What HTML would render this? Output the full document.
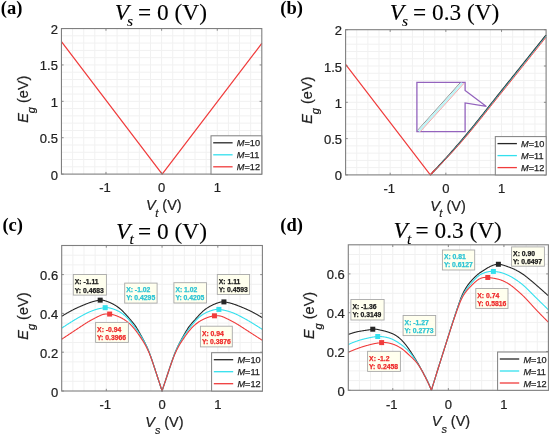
<!DOCTYPE html>
<html><head><meta charset="utf-8"><style>
html,body{margin:0;padding:0;background:#fff;}
body{width:550px;height:435px;overflow:hidden;font-family:"Liberation Sans",sans-serif;}
svg{display:block;will-change:transform;}
</style></head><body>
<svg width="550" height="435" viewBox="0 0 550 435">
<rect width="550" height="435" fill="#fff"/>
<path d="M72.58 28.55V174.1M83.71 28.55V174.1M94.84 28.55V174.1M105.97 28.55V174.1M117.1 28.55V174.1M128.23 28.55V174.1M139.36 28.55V174.1M150.49 28.55V174.1M161.62 28.55V174.1M172.76 28.55V174.1M183.89 28.55V174.1M195.02 28.55V174.1M206.15 28.55V174.1M217.28 28.55V174.1M228.41 28.55V174.1M239.54 28.55V174.1M250.67 28.55V174.1M61.45 166.82H261.8M61.45 159.54H261.8M61.45 152.27H261.8M61.45 144.99H261.8M61.45 137.71H261.8M61.45 130.44H261.8M61.45 123.16H261.8M61.45 115.88H261.8M61.45 108.6H261.8M61.45 101.33H261.8M61.45 94.05H261.8M61.45 86.77H261.8M61.45 79.49H261.8M61.45 72.22H261.8M61.45 64.94H261.8M61.45 57.66H261.8M61.45 50.38H261.8M61.45 43.1H261.8M61.45 35.83H261.8" stroke="#f1f1f1" stroke-width="1" fill="none"/>
<path d="M356.74 29.7V174.9M367.88 29.7V174.9M379.02 29.7V174.9M390.16 29.7V174.9M401.29 29.7V174.9M412.43 29.7V174.9M423.57 29.7V174.9M434.71 29.7V174.9M445.85 29.7V174.9M456.99 29.7V174.9M468.13 29.7V174.9M479.27 29.7V174.9M490.41 29.7V174.9M501.54 29.7V174.9M512.68 29.7V174.9M523.82 29.7V174.9M534.96 29.7V174.9M345.6 167.64H546.1M345.6 160.38H546.1M345.6 153.12H546.1M345.6 145.86H546.1M345.6 138.6H546.1M345.6 131.34H546.1M345.6 124.08H546.1M345.6 116.82H546.1M345.6 109.56H546.1M345.6 102.3H546.1M345.6 95.04H546.1M345.6 87.78H546.1M345.6 80.52H546.1M345.6 73.26H546.1M345.6 66H546.1M345.6 58.74H546.1M345.6 51.48H546.1M345.6 44.22H546.1M345.6 36.96H546.1" stroke="#f1f1f1" stroke-width="1" fill="none"/>
<path d="M72.85 245.5V391M84 245.5V391M95.15 245.5V391M106.3 245.5V391M117.45 245.5V391M128.6 245.5V391M139.75 245.5V391M150.9 245.5V391M162.05 245.5V391M173.2 245.5V391M184.35 245.5V391M195.5 245.5V391M206.65 245.5V391M217.8 245.5V391M228.95 245.5V391M240.1 245.5V391M251.25 245.5V391M61.7 381.3H262.4M61.7 371.6H262.4M61.7 361.9H262.4M61.7 352.2H262.4M61.7 342.5H262.4M61.7 332.8H262.4M61.7 323.1H262.4M61.7 313.4H262.4M61.7 303.7H262.4M61.7 294H262.4M61.7 284.3H262.4M61.7 274.6H262.4M61.7 264.9H262.4M61.7 255.2H262.4" stroke="#f1f1f1" stroke-width="1" fill="none"/>
<path d="M359.42 244.8V390.3M370.53 244.8V390.3M381.65 244.8V390.3M392.77 244.8V390.3M403.88 244.8V390.3M415 244.8V390.3M426.12 244.8V390.3M437.23 244.8V390.3M448.35 244.8V390.3M459.47 244.8V390.3M470.58 244.8V390.3M481.7 244.8V390.3M492.82 244.8V390.3M503.93 244.8V390.3M515.05 244.8V390.3M526.17 244.8V390.3M537.28 244.8V390.3M348.3 380.6H548.4M348.3 370.9H548.4M348.3 361.2H548.4M348.3 351.5H548.4M348.3 341.8H548.4M348.3 332.1H548.4M348.3 322.4H548.4M348.3 312.7H548.4M348.3 303H548.4M348.3 293.3H548.4M348.3 283.6H548.4M348.3 273.9H548.4M348.3 264.2H548.4M348.3 254.5H548.4" stroke="#f1f1f1" stroke-width="1" fill="none"/>
<polyline points="61.45,41.65 162.18,174.1 261.8,43.47" fill="none" stroke="#f03c3c" stroke-width="1.25" stroke-linejoin="round" />
<polyline points="430.31,174.9 431.78,173.37 433.24,171.84 434.71,170.29 436.17,168.74 437.64,167.17 439.11,165.6 440.57,164.02 442.04,162.43 443.5,160.84 444.97,159.23 446.43,157.62 447.9,156 449.37,154.36 450.83,152.72 452.3,151.07 453.76,149.42 455.23,147.75 456.69,146.08 458.16,144.39 459.62,142.7 461.09,141 462.56,139.29 464.02,137.56 465.49,135.82 466.95,134.06 468.42,132.29 469.88,130.51 471.35,128.72 472.82,126.91 474.28,125.1 475.75,123.28 477.21,121.45 478.68,119.61 480.14,117.77 481.61,115.92 483.08,114.07 484.54,112.21 486.01,110.36 487.47,108.5 488.94,106.64 490.4,104.78 491.87,102.92 493.34,101.07 494.8,99.22 496.27,97.37 497.73,95.53 499.2,93.7 500.66,91.87 502.13,90.04 503.6,88.22 505.06,86.39 506.53,84.56 507.99,82.73 509.46,80.9 510.92,79.08 512.39,77.25 513.86,75.42 515.32,73.59 516.79,71.76 518.25,69.93 519.72,68.09 521.18,66.26 522.65,64.43 524.11,62.6 525.58,60.77 527.05,58.93 528.51,57.1 529.98,55.27 531.44,53.43 532.91,51.6 534.37,49.76 535.84,47.93 537.31,46.09 538.77,44.26 540.24,42.42 541.7,40.58 543.17,38.75 544.63,36.91 546.1,35.07" fill="none" stroke="#262626" stroke-width="1.4" stroke-linejoin="round" />
<polyline points="430.31,174.9 431.78,173.39 433.24,171.88 434.71,170.35 436.17,168.82 437.64,167.27 439.11,165.72 440.57,164.16 442.04,162.59 443.5,161.01 444.97,159.42 446.43,157.82 447.9,156.22 449.37,154.6 450.83,152.98 452.3,151.34 453.76,149.7 455.23,148.05 456.69,146.39 458.16,144.72 459.62,143.04 461.09,141.36 462.56,139.66 464.02,137.94 465.49,136.21 466.95,134.47 468.42,132.71 469.88,130.94 471.35,129.16 472.82,127.36 474.28,125.56 475.75,123.74 477.21,121.92 478.68,120.09 480.14,118.26 481.61,116.42 483.08,114.57 484.54,112.72 486.01,110.87 487.47,109.02 488.94,107.17 490.4,105.32 491.87,103.47 493.34,101.62 494.8,99.78 496.27,97.94 497.73,96.1 499.2,94.28 500.66,92.45 502.13,90.63 503.6,88.81 505.06,86.99 506.53,85.17 507.99,83.35 509.46,81.52 510.92,79.7 512.39,77.88 513.86,76.05 515.32,74.23 516.79,72.4 518.25,70.58 519.72,68.75 521.18,66.93 522.65,65.1 524.11,63.27 525.58,61.44 527.05,59.61 528.51,57.79 529.98,55.96 531.44,54.13 532.91,52.3 534.37,50.46 535.84,48.63 537.31,46.8 538.77,44.97 540.24,43.14 541.7,41.3 543.17,39.47 544.63,37.63 546.1,35.8" fill="none" stroke="#33e0ee" stroke-width="0.75" stroke-linejoin="round" />
<polyline points="345.6,64.48 430.31,174.9 434.77,169.96" fill="none" stroke="#f03c3c" stroke-width="1.2" stroke-linejoin="round" />
<polyline points="430.31,174.9 431.78,173.45 433.24,171.99 434.71,170.52 436.17,169.04 437.64,167.54 439.11,166.04 440.57,164.53 442.04,163.01 443.5,161.47 444.97,159.93 446.43,158.38 447.9,156.81 449.37,155.24 450.83,153.66 452.3,152.06 453.76,150.46 455.23,148.84 456.69,147.22 458.16,145.58 459.62,143.94 461.09,142.28 462.56,140.62 464.02,138.93 465.49,137.23 466.95,135.51 468.42,133.78 469.88,132.03 471.35,130.26 472.82,128.49 474.28,126.7 475.75,124.9 477.21,123.1 478.68,121.28 480.14,119.46 481.61,117.63 483.08,115.79 484.54,113.95 486.01,112.11 487.47,110.27 488.94,108.42 490.4,106.58 491.87,104.74 493.34,102.9 494.8,101.06 496.27,99.23 497.73,97.4 499.2,95.58 500.66,93.76 502.13,91.95 503.6,90.14 505.06,88.32 506.53,86.5 507.99,84.69 509.46,82.87 510.92,81.05 512.39,79.23 513.86,77.41 515.32,75.59 516.79,73.76 518.25,71.94 519.72,70.12 521.18,68.29 522.65,66.46 524.11,64.64 525.58,62.81 527.05,60.98 528.51,59.15 529.98,57.32 531.44,55.48 532.91,53.65 534.37,51.82 535.84,49.98 537.31,48.14 538.77,46.31 540.24,44.47 541.7,42.63 543.17,40.79 544.63,38.95 546.1,37.11" fill="none" stroke="#f03c3c" stroke-width="0.95" stroke-linejoin="round" />
<polyline points="61.7,316.31 62.04,316.1 62.37,315.89 62.71,315.68 63.04,315.47 63.38,315.26 63.71,315.06 64.05,314.85 64.38,314.65 64.72,314.45 65.06,314.25 65.39,314.05 65.73,313.85 66.06,313.65 66.4,313.46 66.73,313.26 67.07,313.07 67.41,312.88 67.74,312.69 68.08,312.5 68.41,312.31 68.75,312.12 69.08,311.93 69.42,311.75 69.75,311.56 70.09,311.38 70.43,311.2 70.76,311.02 71.1,310.83 71.43,310.66 71.77,310.48 72.1,310.3 72.44,310.12 72.78,309.95 73.11,309.77 73.45,309.6 73.78,309.43 74.12,309.26 74.45,309.09 74.79,308.93 75.12,308.77 75.46,308.61 75.8,308.45 76.13,308.29 76.47,308.13 76.8,307.98 77.14,307.82 77.47,307.67 77.81,307.52 78.15,307.37 78.48,307.22 78.82,307.07 79.15,306.92 79.49,306.78 79.82,306.63 80.16,306.49 80.49,306.34 80.83,306.2 81.17,306.06 81.5,305.92 81.84,305.77 82.17,305.63 82.51,305.49 82.84,305.35 83.18,305.21 83.52,305.07 83.85,304.93 84.19,304.79 84.52,304.65 84.86,304.51 85.19,304.37 85.53,304.23 85.86,304.1 86.2,303.96 86.54,303.83 86.87,303.7 87.21,303.57 87.54,303.44 87.88,303.32 88.21,303.19 88.55,303.07 88.89,302.95 89.22,302.83 89.56,302.71 89.89,302.59 90.23,302.48 90.56,302.36 90.9,302.25 91.23,302.14 91.57,302.04 91.91,301.93 92.24,301.83 92.58,301.73 92.91,301.63 93.25,301.54 93.58,301.44 93.92,301.35 94.26,301.26 94.59,301.18 94.93,301.09 95.26,301.01 95.6,300.93 95.93,300.86 96.27,300.79 96.6,300.72 96.94,300.65 97.28,300.58 97.61,300.52 97.95,300.46 98.28,300.41 98.62,300.35 98.95,300.3 99.29,300.26 99.62,300.21 99.96,300.17 100.3,300.14 100.63,300.11 100.97,300.1 101.3,300.1 101.64,300.11 101.97,300.13 102.31,300.17 102.65,300.21 102.98,300.26 103.32,300.32 103.65,300.39 103.99,300.47 104.32,300.56 104.66,300.65 104.99,300.74 105.33,300.85 105.67,300.95 106,301.06 106.34,301.18 106.67,301.3 107.01,301.42 107.34,301.54 107.68,301.66 108.02,301.79 108.35,301.92 108.69,302.05 109.02,302.19 109.36,302.33 109.69,302.47 110.03,302.61 110.36,302.76 110.7,302.91 111.04,303.07 111.37,303.23 111.71,303.39 112.04,303.56 112.38,303.73 112.71,303.9 113.05,304.08 113.39,304.26 113.72,304.45 114.06,304.64 114.39,304.84 114.73,305.03 115.06,305.23 115.4,305.44 115.73,305.64 116.07,305.85 116.41,306.06 116.74,306.28 117.08,306.5 117.41,306.73 117.75,306.96 118.08,307.2 118.42,307.44 118.76,307.69 119.09,307.94 119.43,308.21 119.76,308.47 120.1,308.75 120.43,309.04 120.77,309.33 121.1,309.63 121.44,309.94 121.78,310.26 122.11,310.59 122.45,310.93 122.78,311.26 123.12,311.61 123.45,311.95 123.79,312.3 124.13,312.66 124.46,313.02 124.8,313.38 125.13,313.74 125.47,314.11 125.8,314.48 126.14,314.85 126.47,315.22 126.81,315.59 127.15,315.97 127.48,316.35 127.82,316.73 128.15,317.11 128.49,317.49 128.82,317.87 129.16,318.25 129.49,318.64 129.83,319.02 130.17,319.41 130.5,319.8 130.84,320.19 131.17,320.59 131.51,320.99 131.84,321.39 132.18,321.79 132.52,322.2 132.85,322.61 133.19,323.03 133.52,323.44 133.86,323.86 134.19,324.29 134.53,324.72 134.86,325.18 135.2,325.65 135.54,326.13 135.87,326.64 136.21,327.15 136.54,327.68 136.88,328.22 137.21,328.77 137.55,329.33 137.89,329.9 138.22,330.48 138.56,331.06 138.89,331.65 139.23,332.25 139.56,332.84 139.9,333.44 140.23,334.04 140.57,334.65 140.91,335.25 141.24,335.85 141.58,336.46 141.91,337.07 142.25,337.69 142.58,338.31 142.92,338.93 143.26,339.56 143.59,340.2 143.93,340.84 144.26,341.49 144.6,342.15 144.93,342.82 145.27,343.5 145.6,344.19 145.94,344.89 146.28,345.6 146.61,346.33 146.95,347.07 147.28,347.82 147.62,348.58 147.95,349.37 148.29,350.16 148.63,350.98 148.96,351.81 149.3,352.66 149.63,353.53 149.97,354.42 150.3,355.32 150.64,356.25 150.97,357.2 151.31,358.17 151.65,359.16 151.98,360.15 152.32,361.15 152.65,362.16 152.99,363.16 153.32,364.17 153.66,365.19 154,366.2 154.33,367.22 154.67,368.24 155,369.27 155.34,370.29 155.67,371.32 156.01,372.35 156.34,373.38 156.68,374.42 157.02,375.45 157.35,376.49 157.69,377.52 158.02,378.55 158.36,379.59 158.69,380.62 159.03,381.65 159.37,382.69 159.7,383.72 160.04,384.76 160.37,385.79 160.71,386.83 161.04,387.87 161.38,388.91 161.71,389.95 162.05,391 162.39,389.98 162.72,388.95 163.06,387.93 163.39,386.91 163.73,385.89 164.06,384.88 164.4,383.86 164.73,382.85 165.07,381.83 165.41,380.82 165.74,379.81 166.08,378.79 166.41,377.78 166.75,376.76 167.08,375.75 167.42,374.73 167.76,373.72 168.09,372.71 168.43,371.7 168.76,370.69 169.1,369.68 169.43,368.68 169.77,367.68 170.1,366.68 170.44,365.68 170.78,364.69 171.11,363.7 171.45,362.71 171.78,361.73 172.12,360.75 172.45,359.77 172.79,358.8 173.13,357.85 173.46,356.92 173.8,356.01 174.13,355.12 174.47,354.25 174.8,353.4 175.14,352.56 175.47,351.75 175.81,350.95 176.15,350.17 176.48,349.4 176.82,348.65 177.15,347.91 177.49,347.19 177.82,346.47 178.16,345.78 178.5,345.09 178.83,344.41 179.17,343.75 179.5,343.09 179.84,342.44 180.17,341.8 180.51,341.17 180.84,340.55 181.18,339.93 181.52,339.32 181.85,338.71 182.19,338.11 182.52,337.51 182.86,336.91 183.19,336.32 183.53,335.73 183.87,335.14 184.2,334.55 184.54,333.96 184.87,333.38 185.21,332.79 185.54,332.21 185.88,331.64 186.21,331.08 186.55,330.52 186.89,329.97 187.22,329.43 187.56,328.9 187.89,328.38 188.23,327.87 188.56,327.38 188.9,326.9 189.24,326.44 189.57,326 189.91,325.57 190.24,325.15 190.58,324.74 190.91,324.33 191.25,323.93 191.58,323.52 191.92,323.12 192.26,322.73 192.59,322.33 192.93,321.94 193.26,321.55 193.6,321.17 193.93,320.78 194.27,320.4 194.61,320.03 194.94,319.65 195.28,319.28 195.61,318.9 195.95,318.53 196.28,318.16 196.62,317.78 196.95,317.41 197.29,317.04 197.63,316.68 197.96,316.31 198.3,315.95 198.63,315.58 198.97,315.22 199.3,314.87 199.64,314.51 199.97,314.16 200.31,313.82 200.65,313.47 200.98,313.13 201.32,312.8 201.65,312.46 201.99,312.14 202.32,311.81 202.66,311.5 203,311.2 203.33,310.9 203.67,310.61 204,310.33 204.34,310.06 204.67,309.8 205.01,309.54 205.34,309.29 205.68,309.05 206.02,308.81 206.35,308.58 206.69,308.35 207.02,308.13 207.36,307.91 207.69,307.7 208.03,307.49 208.37,307.28 208.7,307.08 209.04,306.88 209.37,306.69 209.71,306.49 210.04,306.3 210.38,306.11 210.71,305.93 211.05,305.75 211.39,305.57 211.72,305.4 212.06,305.24 212.39,305.07 212.73,304.91 213.06,304.76 213.4,304.61 213.74,304.46 214.07,304.31 214.41,304.17 214.74,304.03 215.08,303.9 215.41,303.76 215.75,303.63 216.08,303.51 216.42,303.38 216.76,303.26 217.09,303.14 217.43,303.02 217.76,302.91 218.1,302.79 218.43,302.68 218.77,302.58 219.11,302.48 219.44,302.38 219.78,302.29 220.11,302.21 220.45,302.14 220.78,302.07 221.12,302.01 221.45,301.96 221.79,301.91 222.13,301.88 222.46,301.86 222.8,301.85 223.13,301.85 223.47,301.86 223.8,301.88 224.14,301.92 224.48,301.96 224.81,302 225.15,302.05 225.48,302.1 225.82,302.15 226.15,302.2 226.49,302.26 226.82,302.32 227.16,302.38 227.5,302.45 227.83,302.52 228.17,302.59 228.5,302.67 228.84,302.74 229.17,302.82 229.51,302.9 229.84,302.99 230.18,303.08 230.52,303.16 230.85,303.26 231.19,303.35 231.52,303.45 231.86,303.54 232.19,303.64 232.53,303.75 232.87,303.85 233.2,303.96 233.54,304.07 233.87,304.18 234.21,304.29 234.54,304.4 234.88,304.52 235.21,304.64 235.55,304.76 235.89,304.88 236.22,305 236.56,305.13 236.89,305.25 237.23,305.38 237.56,305.51 237.9,305.64 238.24,305.77 238.57,305.9 238.91,306.03 239.24,306.17 239.58,306.31 239.91,306.44 240.25,306.58 240.58,306.72 240.92,306.86 241.26,307 241.59,307.13 241.93,307.27 242.26,307.41 242.6,307.55 242.93,307.69 243.27,307.83 243.61,307.97 243.94,308.11 244.28,308.25 244.61,308.4 244.95,308.54 245.28,308.68 245.62,308.83 245.95,308.98 246.29,309.12 246.63,309.27 246.96,309.42 247.3,309.57 247.63,309.72 247.97,309.88 248.3,310.03 248.64,310.19 248.98,310.35 249.31,310.51 249.65,310.67 249.98,310.83 250.32,311 250.65,311.16 250.99,311.33 251.32,311.5 251.66,311.68 252,311.85 252.33,312.02 252.67,312.2 253,312.38 253.34,312.55 253.67,312.73 254.01,312.91 254.35,313.09 254.68,313.27 255.02,313.45 255.35,313.64 255.69,313.82 256.02,314 256.36,314.19 256.69,314.38 257.03,314.57 257.37,314.76 257.7,314.95 258.04,315.14 258.37,315.33 258.71,315.53 259.04,315.72 259.38,315.92 259.72,316.12 260.05,316.31 260.39,316.52 260.72,316.72 261.06,316.92 261.39,317.12 261.73,317.33 262.06,317.54 262.4,317.75" fill="none" stroke="#262626" stroke-width="1.1" stroke-linejoin="round" />
<polyline points="61.7,328.14 62.04,327.92 62.37,327.69 62.71,327.47 63.04,327.24 63.38,327.02 63.71,326.8 64.05,326.57 64.38,326.35 64.72,326.13 65.06,325.92 65.39,325.7 65.73,325.48 66.06,325.26 66.4,325.05 66.73,324.83 67.07,324.62 67.41,324.4 67.74,324.19 68.08,323.97 68.41,323.76 68.75,323.55 69.08,323.34 69.42,323.12 69.75,322.91 70.09,322.7 70.43,322.49 70.76,322.28 71.1,322.07 71.43,321.86 71.77,321.65 72.1,321.43 72.44,321.22 72.78,321.01 73.11,320.8 73.45,320.59 73.78,320.39 74.12,320.18 74.45,319.98 74.79,319.77 75.12,319.57 75.46,319.37 75.8,319.17 76.13,318.97 76.47,318.78 76.8,318.58 77.14,318.38 77.47,318.19 77.81,318 78.15,317.81 78.48,317.62 78.82,317.43 79.15,317.24 79.49,317.05 79.82,316.86 80.16,316.67 80.49,316.49 80.83,316.3 81.17,316.11 81.5,315.93 81.84,315.75 82.17,315.56 82.51,315.38 82.84,315.19 83.18,315.01 83.52,314.83 83.85,314.65 84.19,314.46 84.52,314.28 84.86,314.1 85.19,313.93 85.53,313.76 85.86,313.58 86.2,313.42 86.54,313.25 86.87,313.09 87.21,312.92 87.54,312.76 87.88,312.61 88.21,312.45 88.55,312.3 88.89,312.15 89.22,312 89.56,311.86 89.89,311.71 90.23,311.57 90.56,311.43 90.9,311.3 91.23,311.16 91.57,311.03 91.91,310.9 92.24,310.78 92.58,310.65 92.91,310.53 93.25,310.41 93.58,310.29 93.92,310.18 94.26,310.06 94.59,309.95 94.93,309.84 95.26,309.74 95.6,309.63 95.93,309.53 96.27,309.43 96.6,309.34 96.94,309.24 97.28,309.15 97.61,309.06 97.95,308.98 98.28,308.89 98.62,308.81 98.95,308.73 99.29,308.65 99.62,308.58 99.96,308.5 100.3,308.43 100.63,308.36 100.97,308.3 101.3,308.24 101.64,308.17 101.97,308.12 102.31,308.06 102.65,308.01 102.98,307.96 103.32,307.91 103.65,307.86 103.99,307.82 104.32,307.77 104.66,307.73 104.99,307.7 105.33,307.66 105.67,307.64 106,307.62 106.34,307.62 106.67,307.62 107.01,307.63 107.34,307.65 107.68,307.68 108.02,307.71 108.35,307.76 108.69,307.81 109.02,307.86 109.36,307.92 109.69,307.99 110.03,308.07 110.36,308.15 110.7,308.24 111.04,308.33 111.37,308.42 111.71,308.52 112.04,308.62 112.38,308.73 112.71,308.84 113.05,308.95 113.39,309.07 113.72,309.19 114.06,309.31 114.39,309.43 114.73,309.56 115.06,309.68 115.4,309.81 115.73,309.95 116.07,310.09 116.41,310.23 116.74,310.37 117.08,310.52 117.41,310.67 117.75,310.83 118.08,311 118.42,311.17 118.76,311.34 119.09,311.52 119.43,311.7 119.76,311.9 120.1,312.09 120.43,312.3 120.77,312.51 121.1,312.73 121.44,312.95 121.78,313.19 122.11,313.43 122.45,313.68 122.78,313.93 123.12,314.19 123.45,314.45 123.79,314.72 124.13,315 124.46,315.28 124.8,315.57 125.13,315.87 125.47,316.17 125.8,316.48 126.14,316.8 126.47,317.12 126.81,317.45 127.15,317.79 127.48,318.14 127.82,318.5 128.15,318.86 128.49,319.23 128.82,319.61 129.16,320 129.49,320.39 129.83,320.8 130.17,321.21 130.5,321.62 130.84,322.04 131.17,322.46 131.51,322.89 131.84,323.32 132.18,323.75 132.52,324.19 132.85,324.62 133.19,325.06 133.52,325.5 133.86,325.94 134.19,326.39 134.53,326.84 134.86,327.29 135.2,327.75 135.54,328.21 135.87,328.67 136.21,329.13 136.54,329.6 136.88,330.07 137.21,330.55 137.55,331.02 137.89,331.5 138.22,331.98 138.56,332.47 138.89,332.96 139.23,333.45 139.56,333.94 139.9,334.44 140.23,334.94 140.57,335.44 140.91,335.96 141.24,336.48 141.58,337.01 141.91,337.56 142.25,338.11 142.58,338.67 142.92,339.24 143.26,339.82 143.59,340.41 143.93,341.02 144.26,341.63 144.6,342.26 144.93,342.9 145.27,343.56 145.6,344.23 145.94,344.91 146.28,345.61 146.61,346.33 146.95,347.06 147.28,347.8 147.62,348.56 147.95,349.34 148.29,350.14 148.63,350.95 148.96,351.79 149.3,352.64 149.63,353.51 149.97,354.4 150.3,355.31 150.64,356.24 150.97,357.19 151.31,358.17 151.65,359.16 151.98,360.16 152.32,361.16 152.65,362.16 152.99,363.17 153.32,364.18 153.66,365.19 154,366.21 154.33,367.23 154.67,368.25 155,369.27 155.34,370.3 155.67,371.32 156.01,372.35 156.34,373.38 156.68,374.42 157.02,375.45 157.35,376.49 157.69,377.52 158.02,378.55 158.36,379.59 158.69,380.62 159.03,381.65 159.37,382.69 159.7,383.72 160.04,384.76 160.37,385.79 160.71,386.83 161.04,387.87 161.38,388.91 161.71,389.95 162.05,391 162.39,389.98 162.72,388.96 163.06,387.94 163.39,386.92 163.73,385.9 164.06,384.89 164.4,383.88 164.73,382.86 165.07,381.85 165.41,380.84 165.74,379.83 166.08,378.81 166.41,377.8 166.75,376.79 167.08,375.78 167.42,374.76 167.76,373.75 168.09,372.74 168.43,371.73 168.76,370.73 169.1,369.73 169.43,368.72 169.77,367.72 170.1,366.73 170.44,365.73 170.78,364.74 171.11,363.75 171.45,362.77 171.78,361.78 172.12,360.8 172.45,359.83 172.79,358.86 173.13,357.9 173.46,356.97 173.8,356.06 174.13,355.17 174.47,354.3 174.8,353.44 175.14,352.61 175.47,351.79 175.81,351 176.15,350.22 176.48,349.45 176.82,348.71 177.15,347.98 177.49,347.26 177.82,346.56 178.16,345.88 178.5,345.21 178.83,344.55 179.17,343.91 179.5,343.28 179.84,342.67 180.17,342.06 180.51,341.47 180.84,340.89 181.18,340.32 181.52,339.76 181.85,339.21 182.19,338.67 182.52,338.15 182.86,337.62 183.19,337.11 183.53,336.61 183.87,336.11 184.2,335.62 184.54,335.14 184.87,334.65 185.21,334.17 185.54,333.7 185.88,333.22 186.21,332.75 186.55,332.28 186.89,331.81 187.22,331.35 187.56,330.89 187.89,330.43 188.23,329.97 188.56,329.52 188.9,329.07 189.24,328.63 189.57,328.18 189.91,327.74 190.24,327.31 190.58,326.87 190.91,326.44 191.25,326.01 191.58,325.59 191.92,325.16 192.26,324.74 192.59,324.32 192.93,323.9 193.26,323.48 193.6,323.07 193.93,322.67 194.27,322.27 194.61,321.87 194.94,321.49 195.28,321.11 195.61,320.73 195.95,320.37 196.28,320.02 196.62,319.67 196.95,319.33 197.29,318.99 197.63,318.67 197.96,318.35 198.3,318.04 198.63,317.74 198.97,317.44 199.3,317.15 199.64,316.87 199.97,316.59 200.31,316.32 200.65,316.05 200.98,315.8 201.32,315.54 201.65,315.3 201.99,315.05 202.32,314.82 202.66,314.59 203,314.37 203.33,314.16 203.67,313.95 204,313.75 204.34,313.55 204.67,313.37 205.01,313.18 205.34,313.01 205.68,312.84 206.02,312.67 206.35,312.51 206.69,312.36 207.02,312.21 207.36,312.06 207.69,311.92 208.03,311.78 208.37,311.65 208.7,311.52 209.04,311.39 209.37,311.26 209.71,311.14 210.04,311.02 210.38,310.9 210.71,310.79 211.05,310.67 211.39,310.56 211.72,310.45 212.06,310.35 212.39,310.25 212.73,310.15 213.06,310.06 213.4,309.97 213.74,309.89 214.07,309.81 214.41,309.73 214.74,309.67 215.08,309.6 215.41,309.55 215.75,309.5 216.08,309.46 216.42,309.42 216.76,309.4 217.09,309.38 217.43,309.37 217.76,309.36 218.1,309.37 218.43,309.38 218.77,309.41 219.11,309.44 219.44,309.48 219.78,309.52 220.11,309.56 220.45,309.6 220.78,309.65 221.12,309.7 221.45,309.75 221.79,309.8 222.13,309.85 222.46,309.91 222.8,309.97 223.13,310.03 223.47,310.1 223.8,310.16 224.14,310.23 224.48,310.3 224.81,310.38 225.15,310.45 225.48,310.53 225.82,310.61 226.15,310.69 226.49,310.78 226.82,310.87 227.16,310.96 227.5,311.05 227.83,311.14 228.17,311.24 228.5,311.34 228.84,311.44 229.17,311.54 229.51,311.65 229.84,311.76 230.18,311.87 230.52,311.98 230.85,312.1 231.19,312.21 231.52,312.33 231.86,312.46 232.19,312.58 232.53,312.71 232.87,312.84 233.2,312.97 233.54,313.1 233.87,313.24 234.21,313.37 234.54,313.51 234.88,313.66 235.21,313.8 235.55,313.95 235.89,314.1 236.22,314.25 236.56,314.4 236.89,314.56 237.23,314.72 237.56,314.88 237.9,315.04 238.24,315.21 238.57,315.37 238.91,315.54 239.24,315.72 239.58,315.89 239.91,316.07 240.25,316.25 240.58,316.42 240.92,316.6 241.26,316.78 241.59,316.96 241.93,317.14 242.26,317.32 242.6,317.5 242.93,317.68 243.27,317.87 243.61,318.05 243.94,318.23 244.28,318.41 244.61,318.6 244.95,318.78 245.28,318.97 245.62,319.15 245.95,319.34 246.29,319.53 246.63,319.72 246.96,319.91 247.3,320.1 247.63,320.29 247.97,320.48 248.3,320.68 248.64,320.87 248.98,321.07 249.31,321.26 249.65,321.46 249.98,321.66 250.32,321.87 250.65,322.07 250.99,322.27 251.32,322.48 251.66,322.69 252,322.89 252.33,323.1 252.67,323.31 253,323.51 253.34,323.72 253.67,323.93 254.01,324.13 254.35,324.34 254.68,324.55 255.02,324.75 255.35,324.96 255.69,325.17 256.02,325.38 256.36,325.59 256.69,325.8 257.03,326.01 257.37,326.22 257.7,326.43 258.04,326.64 258.37,326.85 258.71,327.07 259.04,327.28 259.38,327.49 259.72,327.71 260.05,327.92 260.39,328.14 260.72,328.36 261.06,328.58 261.39,328.8 261.73,329.02 262.06,329.24 262.4,329.46" fill="none" stroke="#33e0ee" stroke-width="1.1" stroke-linejoin="round" />
<polyline points="61.7,339.2 62.04,338.98 62.37,338.76 62.71,338.54 63.04,338.31 63.38,338.09 63.71,337.87 64.05,337.65 64.38,337.43 64.72,337.2 65.06,336.98 65.39,336.76 65.73,336.54 66.06,336.32 66.4,336.1 66.73,335.87 67.07,335.65 67.41,335.43 67.74,335.21 68.08,334.99 68.41,334.76 68.75,334.54 69.08,334.32 69.42,334.1 69.75,333.88 70.09,333.65 70.43,333.43 70.76,333.21 71.1,332.99 71.43,332.77 71.77,332.55 72.1,332.32 72.44,332.1 72.78,331.88 73.11,331.66 73.45,331.44 73.78,331.21 74.12,330.99 74.45,330.77 74.79,330.55 75.12,330.33 75.46,330.1 75.8,329.88 76.13,329.66 76.47,329.44 76.8,329.22 77.14,328.99 77.47,328.77 77.81,328.55 78.15,328.33 78.48,328.11 78.82,327.89 79.15,327.66 79.49,327.44 79.82,327.22 80.16,327 80.49,326.78 80.83,326.55 81.17,326.33 81.5,326.11 81.84,325.89 82.17,325.67 82.51,325.44 82.84,325.22 83.18,325 83.52,324.78 83.85,324.56 84.19,324.34 84.52,324.12 84.86,323.9 85.19,323.68 85.53,323.47 85.86,323.26 86.2,323.05 86.54,322.84 86.87,322.63 87.21,322.43 87.54,322.22 87.88,322.02 88.21,321.82 88.55,321.62 88.89,321.43 89.22,321.23 89.56,321.04 89.89,320.85 90.23,320.66 90.56,320.47 90.9,320.28 91.23,320.1 91.57,319.91 91.91,319.73 92.24,319.55 92.58,319.36 92.91,319.19 93.25,319.01 93.58,318.83 93.92,318.65 94.26,318.48 94.59,318.3 94.93,318.13 95.26,317.96 95.6,317.79 95.93,317.62 96.27,317.45 96.6,317.28 96.94,317.11 97.28,316.94 97.61,316.78 97.95,316.61 98.28,316.45 98.62,316.28 98.95,316.12 99.29,315.96 99.62,315.8 99.96,315.63 100.3,315.47 100.63,315.32 100.97,315.18 101.3,315.04 101.64,314.91 101.97,314.8 102.31,314.69 102.65,314.58 102.98,314.49 103.32,314.4 103.65,314.33 103.99,314.26 104.32,314.19 104.66,314.14 104.99,314.09 105.33,314.05 105.67,314.01 106,313.98 106.34,313.96 106.67,313.95 107.01,313.94 107.34,313.93 107.68,313.94 108.02,313.94 108.35,313.96 108.69,313.98 109.02,314 109.36,314.03 109.69,314.06 110.03,314.1 110.36,314.15 110.7,314.2 111.04,314.25 111.37,314.31 111.71,314.38 112.04,314.45 112.38,314.52 112.71,314.6 113.05,314.69 113.39,314.78 113.72,314.87 114.06,314.97 114.39,315.07 114.73,315.17 115.06,315.28 115.4,315.4 115.73,315.52 116.07,315.64 116.41,315.76 116.74,315.89 117.08,316.02 117.41,316.16 117.75,316.3 118.08,316.44 118.42,316.58 118.76,316.73 119.09,316.88 119.43,317.03 119.76,317.19 120.1,317.35 120.43,317.51 120.77,317.68 121.1,317.84 121.44,318.01 121.78,318.18 122.11,318.35 122.45,318.53 122.78,318.72 123.12,318.91 123.45,319.11 123.79,319.31 124.13,319.52 124.46,319.73 124.8,319.95 125.13,320.18 125.47,320.41 125.8,320.64 126.14,320.89 126.47,321.13 126.81,321.38 127.15,321.64 127.48,321.91 127.82,322.17 128.15,322.45 128.49,322.72 128.82,323.01 129.16,323.3 129.49,323.59 129.83,323.9 130.17,324.21 130.5,324.53 130.84,324.86 131.17,325.2 131.51,325.55 131.84,325.91 132.18,326.27 132.52,326.64 132.85,327.02 133.19,327.41 133.52,327.8 133.86,328.2 134.19,328.61 134.53,329.02 134.86,329.44 135.2,329.87 135.54,330.3 135.87,330.74 136.21,331.18 136.54,331.63 136.88,332.09 137.21,332.55 137.55,333.01 137.89,333.48 138.22,333.95 138.56,334.43 138.89,334.91 139.23,335.4 139.56,335.89 139.9,336.38 140.23,336.87 140.57,337.37 140.91,337.87 141.24,338.38 141.58,338.89 141.91,339.4 142.25,339.92 142.58,340.45 142.92,340.99 143.26,341.53 143.59,342.08 143.93,342.64 144.26,343.21 144.6,343.79 144.93,344.38 145.27,344.99 145.6,345.6 145.94,346.23 146.28,346.87 146.61,347.53 146.95,348.2 147.28,348.89 147.62,349.59 147.95,350.31 148.29,351.05 148.63,351.81 148.96,352.58 149.3,353.37 149.63,354.19 149.97,355.02 150.3,355.88 150.64,356.75 150.97,357.65 151.31,358.58 151.65,359.52 151.98,360.47 152.32,361.43 152.65,362.4 152.99,363.37 153.32,364.35 153.66,365.34 154,366.33 154.33,367.32 154.67,368.32 155,369.33 155.34,370.34 155.67,371.35 156.01,372.37 156.34,373.4 156.68,374.42 157.02,375.45 157.35,376.48 157.69,377.51 158.02,378.54 158.36,379.57 158.69,380.6 159.03,381.63 159.37,382.66 159.7,383.69 160.04,384.73 160.37,385.77 160.71,386.8 161.04,387.85 161.38,388.89 161.71,389.94 162.05,391 162.39,389.97 162.72,388.94 163.06,387.92 163.39,386.9 163.73,385.88 164.06,384.87 164.4,383.86 164.73,382.85 165.07,381.84 165.41,380.84 165.74,379.83 166.08,378.83 166.41,377.82 166.75,376.81 167.08,375.8 167.42,374.8 167.76,373.79 168.09,372.8 168.43,371.8 168.76,370.81 169.1,369.82 169.43,368.84 169.77,367.86 170.1,366.89 170.44,365.92 170.78,364.96 171.11,364 171.45,363.05 171.78,362.11 172.12,361.17 172.45,360.24 172.79,359.31 173.13,358.41 173.46,357.53 173.8,356.67 174.13,355.84 174.47,355.02 174.8,354.23 175.14,353.45 175.47,352.7 175.81,351.96 176.15,351.24 176.48,350.53 176.82,349.85 177.15,349.17 177.49,348.52 177.82,347.88 178.16,347.25 178.5,346.63 178.83,346.03 179.17,345.44 179.5,344.86 179.84,344.3 180.17,343.74 180.51,343.19 180.84,342.65 181.18,342.12 181.52,341.6 181.85,341.08 182.19,340.57 182.52,340.07 182.86,339.57 183.19,339.08 183.53,338.59 183.87,338.1 184.2,337.62 184.54,337.14 184.87,336.66 185.21,336.18 185.54,335.71 185.88,335.25 186.21,334.79 186.55,334.33 186.89,333.87 187.22,333.42 187.56,332.98 187.89,332.54 188.23,332.11 188.56,331.68 188.9,331.26 189.24,330.84 189.57,330.43 189.91,330.03 190.24,329.63 190.58,329.24 190.91,328.85 191.25,328.47 191.58,328.1 191.92,327.74 192.26,327.38 192.59,327.04 192.93,326.7 193.26,326.36 193.6,326.04 193.93,325.72 194.27,325.42 194.61,325.12 194.94,324.83 195.28,324.55 195.61,324.27 195.95,324 196.28,323.74 196.62,323.47 196.95,323.22 197.29,322.96 197.63,322.72 197.96,322.48 198.3,322.24 198.63,322.01 198.97,321.78 199.3,321.56 199.64,321.35 199.97,321.14 200.31,320.94 200.65,320.74 200.98,320.55 201.32,320.36 201.65,320.18 201.99,320 202.32,319.83 202.66,319.67 203,319.5 203.33,319.34 203.67,319.18 204,319.02 204.34,318.87 204.67,318.71 205.01,318.56 205.34,318.42 205.68,318.27 206.02,318.13 206.35,317.99 206.69,317.86 207.02,317.72 207.36,317.59 207.69,317.47 208.03,317.35 208.37,317.23 208.7,317.11 209.04,317 209.37,316.9 209.71,316.79 210.04,316.69 210.38,316.6 210.71,316.51 211.05,316.42 211.39,316.34 211.72,316.26 212.06,316.19 212.39,316.12 212.73,316.05 213.06,316 213.4,315.94 213.74,315.89 214.07,315.85 214.41,315.81 214.74,315.78 215.08,315.75 215.41,315.72 215.75,315.71 216.08,315.69 216.42,315.68 216.76,315.68 217.09,315.69 217.43,315.69 217.76,315.71 218.1,315.73 218.43,315.76 218.77,315.79 219.11,315.83 219.44,315.88 219.78,315.94 220.11,316 220.45,316.07 220.78,316.14 221.12,316.23 221.45,316.32 221.79,316.42 222.13,316.52 222.46,316.64 222.8,316.76 223.13,316.9 223.47,317.04 223.8,317.19 224.14,317.34 224.48,317.5 224.81,317.66 225.15,317.82 225.48,317.98 225.82,318.14 226.15,318.3 226.49,318.46 226.82,318.63 227.16,318.79 227.5,318.95 227.83,319.12 228.17,319.28 228.5,319.45 228.84,319.62 229.17,319.78 229.51,319.95 229.84,320.12 230.18,320.29 230.52,320.47 230.85,320.64 231.19,320.81 231.52,320.99 231.86,321.17 232.19,321.35 232.53,321.52 232.87,321.7 233.2,321.89 233.54,322.07 233.87,322.25 234.21,322.44 234.54,322.63 234.88,322.82 235.21,323.01 235.55,323.2 235.89,323.39 236.22,323.59 236.56,323.78 236.89,323.98 237.23,324.18 237.56,324.38 237.9,324.59 238.24,324.79 238.57,325 238.91,325.21 239.24,325.42 239.58,325.63 239.91,325.85 240.25,326.06 240.58,326.28 240.92,326.5 241.26,326.72 241.59,326.93 241.93,327.15 242.26,327.37 242.6,327.58 242.93,327.8 243.27,328.02 243.61,328.23 243.94,328.45 244.28,328.67 244.61,328.88 244.95,329.1 245.28,329.32 245.62,329.53 245.95,329.75 246.29,329.97 246.63,330.18 246.96,330.4 247.3,330.62 247.63,330.84 247.97,331.05 248.3,331.27 248.64,331.49 248.98,331.7 249.31,331.92 249.65,332.14 249.98,332.35 250.32,332.57 250.65,332.79 250.99,333 251.32,333.22 251.66,333.44 252,333.65 252.33,333.87 252.67,334.09 253,334.31 253.34,334.52 253.67,334.74 254.01,334.96 254.35,335.17 254.68,335.39 255.02,335.61 255.35,335.82 255.69,336.04 256.02,336.26 256.36,336.47 256.69,336.69 257.03,336.91 257.37,337.12 257.7,337.34 258.04,337.56 258.37,337.78 258.71,337.99 259.04,338.21 259.38,338.43 259.72,338.64 260.05,338.86 260.39,339.08 260.72,339.29 261.06,339.51 261.39,339.73 261.73,339.94 262.06,340.16 262.4,340.38" fill="none" stroke="#f03c3c" stroke-width="1.1" stroke-linejoin="round" />
<polyline points="348.3,334.43 348.58,334.33 348.86,334.24 349.13,334.15 349.41,334.05 349.69,333.96 349.97,333.86 350.25,333.77 350.52,333.68 350.8,333.59 351.08,333.5 351.36,333.41 351.63,333.32 351.91,333.23 352.19,333.14 352.47,333.05 352.75,332.97 353.02,332.88 353.3,332.8 353.58,332.71 353.86,332.63 354.14,332.55 354.41,332.47 354.69,332.39 354.97,332.32 355.25,332.24 355.53,332.17 355.8,332.1 356.08,332.03 356.36,331.96 356.64,331.89 356.92,331.82 357.19,331.76 357.47,331.7 357.75,331.64 358.03,331.58 358.31,331.53 358.58,331.47 358.86,331.42 359.14,331.37 359.42,331.32 359.69,331.28 359.97,331.23 360.25,331.19 360.53,331.14 360.81,331.1 361.08,331.05 361.36,331.01 361.64,330.96 361.92,330.92 362.2,330.88 362.47,330.83 362.75,330.79 363.03,330.75 363.31,330.7 363.59,330.66 363.86,330.62 364.14,330.57 364.42,330.53 364.7,330.49 364.98,330.44 365.25,330.4 365.53,330.36 365.81,330.31 366.09,330.27 366.36,330.23 366.64,330.19 366.92,330.14 367.2,330.1 367.48,330.06 367.75,330.01 368.03,329.97 368.31,329.93 368.59,329.88 368.87,329.84 369.14,329.8 369.42,329.75 369.7,329.71 369.98,329.67 370.26,329.62 370.53,329.58 370.81,329.53 371.09,329.49 371.37,329.44 371.64,329.39 371.92,329.34 372.2,329.3 372.48,329.25 372.76,329.21 373.03,329.17 373.31,329.14 373.59,329.12 373.87,329.1 374.15,329.1 374.42,329.1 374.7,329.1 374.98,329.11 375.26,329.13 375.54,329.16 375.81,329.18 376.09,329.22 376.37,329.25 376.65,329.3 376.93,329.34 377.2,329.39 377.48,329.44 377.76,329.5 378.04,329.55 378.31,329.61 378.59,329.67 378.87,329.73 379.15,329.8 379.43,329.86 379.7,329.93 379.98,329.99 380.26,330.05 380.54,330.12 380.82,330.18 381.09,330.24 381.37,330.3 381.65,330.35 381.93,330.41 382.21,330.47 382.48,330.53 382.76,330.59 383.04,330.65 383.32,330.71 383.6,330.78 383.87,330.85 384.15,330.92 384.43,330.99 384.71,331.06 384.99,331.13 385.26,331.21 385.54,331.28 385.82,331.36 386.1,331.44 386.37,331.52 386.65,331.6 386.93,331.69 387.21,331.77 387.49,331.86 387.76,331.95 388.04,332.04 388.32,332.14 388.6,332.23 388.88,332.33 389.15,332.42 389.43,332.52 389.71,332.62 389.99,332.73 390.27,332.83 390.54,332.94 390.82,333.04 391.1,333.15 391.38,333.26 391.66,333.38 391.93,333.49 392.21,333.61 392.49,333.73 392.77,333.85 393.04,333.97 393.32,334.1 393.6,334.23 393.88,334.37 394.16,334.51 394.43,334.66 394.71,334.81 394.99,334.97 395.27,335.13 395.55,335.29 395.82,335.47 396.1,335.64 396.38,335.82 396.66,336.01 396.94,336.2 397.21,336.4 397.49,336.6 397.77,336.8 398.05,337.01 398.32,337.23 398.6,337.45 398.88,337.68 399.16,337.91 399.44,338.14 399.71,338.38 399.99,338.63 400.27,338.88 400.55,339.13 400.83,339.39 401.1,339.66 401.38,339.93 401.66,340.2 401.94,340.48 402.22,340.76 402.49,341.05 402.77,341.35 403.05,341.65 403.33,341.95 403.61,342.26 403.88,342.58 404.16,342.9 404.44,343.22 404.72,343.55 405,343.88 405.27,344.22 405.55,344.57 405.83,344.91 406.11,345.27 406.38,345.63 406.66,345.99 406.94,346.35 407.22,346.73 407.5,347.1 407.77,347.48 408.05,347.86 408.33,348.25 408.61,348.65 408.89,349.04 409.16,349.44 409.44,349.85 409.72,350.26 410,350.67 410.28,351.08 410.55,351.5 410.83,351.92 411.11,352.35 411.39,352.77 411.67,353.2 411.94,353.63 412.22,354.06 412.5,354.49 412.78,354.93 413.05,355.36 413.33,355.8 413.61,356.24 413.89,356.69 414.17,357.13 414.44,357.58 414.72,358.03 415,358.48 415.28,358.94 415.56,359.39 415.83,359.85 416.11,360.31 416.39,360.78 416.67,361.24 416.95,361.71 417.22,362.18 417.5,362.65 417.78,363.13 418.06,363.6 418.33,364.08 418.61,364.56 418.89,365.05 419.17,365.53 419.45,366.02 419.72,366.51 420,367 420.28,367.5 420.56,368 420.84,368.49 421.11,369 421.39,369.5 421.67,370.01 421.95,370.51 422.23,371.02 422.5,371.54 422.78,372.05 423.06,372.57 423.34,373.09 423.62,373.61 423.89,374.14 424.17,374.66 424.45,375.19 424.73,375.72 425,376.25 425.28,376.79 425.56,377.33 425.84,377.87 426.12,378.41 426.39,378.95 426.67,379.5 426.95,380.05 427.23,380.6 427.51,381.16 427.78,381.74 428.06,382.33 428.34,382.93 428.62,383.55 428.9,384.18 429.17,384.82 429.45,385.47 429.73,386.13 430.01,386.81 430.29,387.49 430.56,388.18 430.84,388.88 431.12,389.59 431.4,390.3 431.79,389.02 432.18,387.74 432.57,386.46 432.96,385.19 433.35,383.91 433.74,382.64 434.14,381.37 434.53,380.11 434.92,378.84 435.31,377.58 435.7,376.31 436.09,375.05 436.48,373.8 436.88,372.54 437.27,371.28 437.66,370.03 438.05,368.77 438.44,367.52 438.83,366.27 439.22,365.02 439.61,363.77 440.01,362.52 440.4,361.28 440.79,360.03 441.18,358.78 441.57,357.54 441.96,356.29 442.35,355.05 442.75,353.8 443.14,352.56 443.53,351.32 443.92,350.07 444.31,348.83 444.7,347.59 445.09,346.34 445.48,345.1 445.88,343.86 446.27,342.61 446.66,341.37 447.05,340.12 447.44,338.88 447.83,337.63 448.22,336.38 448.61,335.14 449.01,333.89 449.4,332.65 449.79,331.41 450.18,330.18 450.57,328.94 450.96,327.72 451.35,326.49 451.75,325.27 452.14,324.05 452.53,322.84 452.92,321.62 453.31,320.42 453.7,319.21 454.09,318.02 454.48,316.82 454.88,315.63 455.27,314.45 455.66,313.26 456.05,312.09 456.44,310.92 456.83,309.75 457.22,308.59 457.62,307.43 458.01,306.28 458.4,305.13 458.79,303.99 459.18,302.86 459.57,301.73 459.96,300.63 460.35,299.57 460.75,298.55 461.14,297.56 461.53,296.61 461.92,295.69 462.31,294.8 462.7,293.95 463.09,293.12 463.48,292.33 463.88,291.56 464.27,290.82 464.66,290.1 465.05,289.41 465.44,288.75 465.83,288.1 466.22,287.48 466.62,286.88 467.01,286.29 467.4,285.73 467.79,285.18 468.18,284.65 468.57,284.13 468.96,283.63 469.35,283.13 469.75,282.65 470.14,282.18 470.53,281.72 470.92,281.27 471.31,280.82 471.7,280.38 472.09,279.95 472.49,279.52 472.88,279.1 473.27,278.69 473.66,278.29 474.05,277.89 474.44,277.49 474.83,277.11 475.22,276.73 475.62,276.36 476.01,276 476.4,275.64 476.79,275.29 477.18,274.95 477.57,274.62 477.96,274.29 478.35,273.97 478.75,273.66 479.14,273.36 479.53,273.06 479.92,272.78 480.31,272.5 480.7,272.23 481.09,271.96 481.49,271.71 481.88,271.46 482.27,271.21 482.66,270.96 483.05,270.72 483.44,270.47 483.83,270.22 484.22,269.97 484.62,269.72 485.01,269.47 485.4,269.23 485.79,268.99 486.18,268.75 486.57,268.51 486.96,268.27 487.36,268.04 487.75,267.81 488.14,267.59 488.53,267.37 488.92,267.15 489.31,266.94 489.7,266.73 490.09,266.53 490.49,266.34 490.88,266.15 491.27,265.97 491.66,265.8 492.05,265.63 492.44,265.47 492.83,265.32 493.22,265.18 493.62,265.05 494.01,264.92 494.4,264.81 494.79,264.7 495.18,264.61 495.57,264.53 495.96,264.45 496.36,264.39 496.75,264.34 497.14,264.3 497.53,264.27 497.92,264.26 498.31,264.26 498.7,264.27 499.09,264.29 499.49,264.33 499.88,264.37 500.27,264.43 500.66,264.5 501.05,264.57 501.44,264.66 501.83,264.75 502.22,264.85 502.62,264.96 503.01,265.07 503.4,265.19 503.79,265.32 504.18,265.45 504.57,265.58 504.96,265.71 505.36,265.84 505.75,265.97 506.14,266.1 506.53,266.23 506.92,266.36 507.31,266.5 507.7,266.63 508.09,266.77 508.49,266.9 508.88,267.04 509.27,267.19 509.66,267.33 510.05,267.48 510.44,267.62 510.83,267.78 511.23,267.93 511.62,268.09 512.01,268.25 512.4,268.41 512.79,268.58 513.18,268.75 513.57,268.93 513.96,269.11 514.36,269.29 514.75,269.48 515.14,269.68 515.53,269.87 515.92,270.07 516.31,270.27 516.7,270.48 517.09,270.69 517.49,270.9 517.88,271.11 518.27,271.33 518.66,271.55 519.05,271.77 519.44,272 519.83,272.23 520.23,272.47 520.62,272.71 521.01,272.95 521.4,273.2 521.79,273.45 522.18,273.71 522.57,273.97 522.96,274.24 523.36,274.51 523.75,274.79 524.14,275.07 524.53,275.36 524.92,275.65 525.31,275.95 525.7,276.25 526.1,276.56 526.49,276.87 526.88,277.19 527.27,277.5 527.66,277.82 528.05,278.14 528.44,278.45 528.83,278.77 529.23,279.09 529.62,279.41 530.01,279.74 530.4,280.06 530.79,280.38 531.18,280.71 531.57,281.04 531.96,281.36 532.36,281.69 532.75,282.02 533.14,282.35 533.53,282.68 533.92,283.02 534.31,283.35 534.7,283.69 535.1,284.02 535.49,284.36 535.88,284.7 536.27,285.04 536.66,285.38 537.05,285.72 537.44,286.07 537.83,286.41 538.23,286.76 538.62,287.1 539.01,287.44 539.4,287.79 539.79,288.13 540.18,288.48 540.57,288.82 540.97,289.17 541.36,289.51 541.75,289.86 542.14,290.2 542.53,290.55 542.92,290.89 543.31,291.24 543.7,291.59 544.1,291.94 544.49,292.29 544.88,292.64 545.27,292.99 545.66,293.34 546.05,293.69 546.44,294.04 546.83,294.4 547.23,294.75 547.62,295.11 548.01,295.46 548.4,295.82" fill="none" stroke="#262626" stroke-width="1.1" stroke-linejoin="round" />
<polyline points="348.3,344.52 348.58,344.39 348.86,344.27 349.13,344.14 349.41,344.02 349.69,343.9 349.97,343.77 350.25,343.65 350.52,343.53 350.8,343.42 351.08,343.3 351.36,343.18 351.63,343.07 351.91,342.95 352.19,342.84 352.47,342.72 352.75,342.61 353.02,342.5 353.3,342.39 353.58,342.28 353.86,342.17 354.14,342.07 354.41,341.96 354.69,341.86 354.97,341.75 355.25,341.65 355.53,341.55 355.8,341.45 356.08,341.35 356.36,341.25 356.64,341.15 356.92,341.06 357.19,340.96 357.47,340.87 357.75,340.78 358.03,340.69 358.31,340.6 358.58,340.51 358.86,340.42 359.14,340.33 359.42,340.25 359.69,340.16 359.97,340.08 360.25,340 360.53,339.92 360.81,339.84 361.08,339.76 361.36,339.68 361.64,339.61 361.92,339.53 362.2,339.46 362.47,339.38 362.75,339.31 363.03,339.24 363.31,339.17 363.59,339.1 363.86,339.03 364.14,338.96 364.42,338.89 364.7,338.82 364.98,338.76 365.25,338.69 365.53,338.63 365.81,338.56 366.09,338.5 366.36,338.43 366.64,338.37 366.92,338.31 367.2,338.25 367.48,338.18 367.75,338.12 368.03,338.06 368.31,338 368.59,337.94 368.87,337.88 369.14,337.82 369.42,337.76 369.7,337.71 369.98,337.65 370.26,337.59 370.53,337.53 370.81,337.47 371.09,337.42 371.37,337.36 371.64,337.31 371.92,337.26 372.2,337.21 372.48,337.16 372.76,337.11 373.03,337.06 373.31,337.02 373.59,336.97 373.87,336.93 374.15,336.89 374.42,336.85 374.7,336.81 374.98,336.78 375.26,336.74 375.54,336.71 375.81,336.68 376.09,336.65 376.37,336.62 376.65,336.59 376.93,336.57 377.2,336.54 377.48,336.52 377.76,336.5 378.04,336.49 378.31,336.47 378.59,336.46 378.87,336.46 379.15,336.46 379.43,336.46 379.7,336.46 379.98,336.47 380.26,336.48 380.54,336.5 380.82,336.52 381.09,336.54 381.37,336.56 381.65,336.59 381.93,336.61 382.21,336.65 382.48,336.68 382.76,336.72 383.04,336.75 383.32,336.79 383.6,336.84 383.87,336.88 384.15,336.93 384.43,336.98 384.71,337.03 384.99,337.08 385.26,337.13 385.54,337.18 385.82,337.24 386.1,337.3 386.37,337.35 386.65,337.41 386.93,337.47 387.21,337.53 387.49,337.59 387.76,337.66 388.04,337.73 388.32,337.81 388.6,337.88 388.88,337.96 389.15,338.05 389.43,338.14 389.71,338.23 389.99,338.33 390.27,338.43 390.54,338.53 390.82,338.63 391.1,338.74 391.38,338.86 391.66,338.97 391.93,339.09 392.21,339.22 392.49,339.34 392.77,339.47 393.04,339.6 393.32,339.74 393.6,339.88 393.88,340.02 394.16,340.16 394.43,340.31 394.71,340.46 394.99,340.61 395.27,340.76 395.55,340.92 395.82,341.08 396.1,341.24 396.38,341.4 396.66,341.57 396.94,341.73 397.21,341.91 397.49,342.08 397.77,342.25 398.05,342.43 398.32,342.61 398.6,342.79 398.88,342.98 399.16,343.17 399.44,343.35 399.71,343.55 399.99,343.74 400.27,343.93 400.55,344.13 400.83,344.33 401.1,344.53 401.38,344.74 401.66,344.94 401.94,345.15 402.22,345.36 402.49,345.57 402.77,345.78 403.05,346 403.33,346.21 403.61,346.43 403.88,346.65 404.16,346.87 404.44,347.1 404.72,347.33 405,347.57 405.27,347.82 405.55,348.06 405.83,348.32 406.11,348.57 406.38,348.84 406.66,349.1 406.94,349.37 407.22,349.65 407.5,349.93 407.77,350.22 408.05,350.51 408.33,350.8 408.61,351.1 408.89,351.4 409.16,351.71 409.44,352.03 409.72,352.34 410,352.66 410.28,352.99 410.55,353.32 410.83,353.66 411.11,354 411.39,354.36 411.67,354.71 411.94,355.07 412.22,355.44 412.5,355.82 412.78,356.19 413.05,356.58 413.33,356.97 413.61,357.36 413.89,357.76 414.17,358.16 414.44,358.56 414.72,358.97 415,359.38 415.28,359.8 415.56,360.22 415.83,360.64 416.11,361.07 416.39,361.5 416.67,361.93 416.95,362.36 417.22,362.8 417.5,363.24 417.78,363.68 418.06,364.13 418.33,364.58 418.61,365.03 418.89,365.49 419.17,365.95 419.45,366.41 419.72,366.87 420,367.34 420.28,367.81 420.56,368.29 420.84,368.76 421.11,369.24 421.39,369.73 421.67,370.21 421.95,370.7 422.23,371.2 422.5,371.69 422.78,372.19 423.06,372.69 423.34,373.2 423.62,373.71 423.89,374.22 424.17,374.73 424.45,375.25 424.73,375.77 425,376.3 425.28,376.82 425.56,377.35 425.84,377.89 426.12,378.42 426.39,378.96 426.67,379.5 426.95,380.05 427.23,380.6 427.51,381.16 427.78,381.73 428.06,382.32 428.34,382.92 428.62,383.53 428.9,384.16 429.17,384.8 429.45,385.45 429.73,386.11 430.01,386.78 430.29,387.47 430.56,388.16 430.84,388.86 431.12,389.58 431.4,390.3 431.79,389 432.18,387.71 432.57,386.42 432.96,385.14 433.35,383.86 433.74,382.58 434.14,381.3 434.53,380.03 434.92,378.75 435.31,377.48 435.7,376.22 436.09,374.95 436.48,373.69 436.88,372.43 437.27,371.17 437.66,369.92 438.05,368.66 438.44,367.41 438.83,366.16 439.22,364.91 439.61,363.66 440.01,362.42 440.4,361.17 440.79,359.93 441.18,358.69 441.57,357.44 441.96,356.2 442.35,354.96 442.75,353.72 443.14,352.48 443.53,351.24 443.92,350.01 444.31,348.77 444.7,347.53 445.09,346.29 445.48,345.05 445.88,343.82 446.27,342.58 446.66,341.34 447.05,340.1 447.44,338.86 447.83,337.62 448.22,336.38 448.61,335.14 449.01,333.9 449.4,332.67 449.79,331.43 450.18,330.2 450.57,328.98 450.96,327.76 451.35,326.54 451.75,325.33 452.14,324.12 452.53,322.91 452.92,321.72 453.31,320.53 453.7,319.34 454.09,318.16 454.48,316.99 454.88,315.83 455.27,314.67 455.66,313.52 456.05,312.38 456.44,311.25 456.83,310.12 457.22,309.01 457.62,307.9 458.01,306.81 458.4,305.72 458.79,304.64 459.18,303.58 459.57,302.53 459.96,301.51 460.35,300.53 460.75,299.59 461.14,298.68 461.53,297.82 461.92,296.98 462.31,296.18 462.7,295.42 463.09,294.68 463.48,293.97 463.88,293.28 464.27,292.62 464.66,291.99 465.05,291.37 465.44,290.78 465.83,290.21 466.22,289.65 466.62,289.11 467.01,288.59 467.4,288.07 467.79,287.57 468.18,287.08 468.57,286.59 468.96,286.12 469.35,285.65 469.75,285.18 470.14,284.71 470.53,284.25 470.92,283.78 471.31,283.32 471.7,282.86 472.09,282.4 472.49,281.95 472.88,281.5 473.27,281.06 473.66,280.63 474.05,280.2 474.44,279.77 474.83,279.36 475.22,278.95 475.62,278.55 476.01,278.16 476.4,277.78 476.79,277.41 477.18,277.05 477.57,276.71 477.96,276.37 478.35,276.05 478.75,275.74 479.14,275.45 479.53,275.17 479.92,274.9 480.31,274.65 480.7,274.42 481.09,274.2 481.49,274 481.88,273.82 482.27,273.64 482.66,273.47 483.05,273.31 483.44,273.15 483.83,273 484.22,272.86 484.62,272.72 485.01,272.58 485.4,272.46 485.79,272.34 486.18,272.23 486.57,272.12 486.96,272.02 487.36,271.93 487.75,271.84 488.14,271.76 488.53,271.69 488.92,271.63 489.31,271.57 489.7,271.52 490.09,271.48 490.49,271.45 490.88,271.42 491.27,271.4 491.66,271.39 492.05,271.39 492.44,271.39 492.83,271.4 493.22,271.43 493.62,271.45 494.01,271.49 494.4,271.52 494.79,271.55 495.18,271.59 495.57,271.63 495.96,271.68 496.36,271.72 496.75,271.77 497.14,271.83 497.53,271.88 497.92,271.94 498.31,272.01 498.7,272.08 499.09,272.15 499.49,272.23 499.88,272.31 500.27,272.4 500.66,272.5 501.05,272.6 501.44,272.7 501.83,272.81 502.22,272.93 502.62,273.05 503.01,273.18 503.4,273.32 503.79,273.46 504.18,273.61 504.57,273.76 504.96,273.91 505.36,274.07 505.75,274.23 506.14,274.39 506.53,274.56 506.92,274.73 507.31,274.9 507.7,275.07 508.09,275.25 508.49,275.43 508.88,275.62 509.27,275.81 509.66,276 510.05,276.2 510.44,276.4 510.83,276.61 511.23,276.82 511.62,277.03 512.01,277.25 512.4,277.48 512.79,277.71 513.18,277.94 513.57,278.18 513.96,278.43 514.36,278.68 514.75,278.94 515.14,279.2 515.53,279.46 515.92,279.73 516.31,279.99 516.7,280.26 517.09,280.53 517.49,280.8 517.88,281.08 518.27,281.35 518.66,281.63 519.05,281.91 519.44,282.2 519.83,282.49 520.23,282.78 520.62,283.08 521.01,283.38 521.4,283.69 521.79,284 522.18,284.31 522.57,284.63 522.96,284.96 523.36,285.29 523.75,285.63 524.14,285.97 524.53,286.32 524.92,286.68 525.31,287.05 525.7,287.42 526.1,287.8 526.49,288.18 526.88,288.57 527.27,288.96 527.66,289.34 528.05,289.73 528.44,290.12 528.83,290.51 529.23,290.9 529.62,291.29 530.01,291.68 530.4,292.07 530.79,292.47 531.18,292.86 531.57,293.25 531.96,293.64 532.36,294.03 532.75,294.43 533.14,294.82 533.53,295.21 533.92,295.6 534.31,295.99 534.7,296.38 535.1,296.77 535.49,297.16 535.88,297.54 536.27,297.93 536.66,298.32 537.05,298.7 537.44,299.08 537.83,299.47 538.23,299.85 538.62,300.23 539.01,300.62 539.4,301 539.79,301.38 540.18,301.77 540.57,302.15 540.97,302.53 541.36,302.92 541.75,303.3 542.14,303.68 542.53,304.07 542.92,304.45 543.31,304.83 543.7,305.22 544.1,305.6 544.49,305.98 544.88,306.36 545.27,306.75 545.66,307.13 546.05,307.51 546.44,307.89 546.83,308.27 547.23,308.65 547.62,309.03 548.01,309.41 548.4,309.79" fill="none" stroke="#33e0ee" stroke-width="1.1" stroke-linejoin="round" />
<polyline points="348.3,352.28 348.58,352.15 348.86,352.03 349.13,351.9 349.41,351.78 349.69,351.66 349.97,351.53 350.25,351.41 350.52,351.29 350.8,351.17 351.08,351.05 351.36,350.94 351.63,350.82 351.91,350.7 352.19,350.59 352.47,350.47 352.75,350.36 353.02,350.24 353.3,350.13 353.58,350.02 353.86,349.91 354.14,349.8 354.41,349.69 354.69,349.58 354.97,349.47 355.25,349.36 355.53,349.25 355.8,349.14 356.08,349.04 356.36,348.93 356.64,348.83 356.92,348.72 357.19,348.62 357.47,348.52 357.75,348.41 358.03,348.31 358.31,348.21 358.58,348.11 358.86,348.01 359.14,347.91 359.42,347.81 359.69,347.72 359.97,347.62 360.25,347.52 360.53,347.43 360.81,347.34 361.08,347.24 361.36,347.15 361.64,347.06 361.92,346.97 362.2,346.88 362.47,346.8 362.75,346.71 363.03,346.62 363.31,346.54 363.59,346.45 363.86,346.37 364.14,346.29 364.42,346.2 364.7,346.12 364.98,346.04 365.25,345.96 365.53,345.88 365.81,345.8 366.09,345.72 366.36,345.64 366.64,345.57 366.92,345.49 367.2,345.41 367.48,345.34 367.75,345.26 368.03,345.19 368.31,345.11 368.59,345.03 368.87,344.96 369.14,344.89 369.42,344.81 369.7,344.74 369.98,344.66 370.26,344.59 370.53,344.52 370.81,344.44 371.09,344.37 371.37,344.3 371.64,344.23 371.92,344.17 372.2,344.1 372.48,344.04 372.76,343.98 373.03,343.92 373.31,343.86 373.59,343.8 373.87,343.74 374.15,343.69 374.42,343.63 374.7,343.58 374.98,343.53 375.26,343.48 375.54,343.43 375.81,343.38 376.09,343.34 376.37,343.29 376.65,343.25 376.93,343.2 377.2,343.16 377.48,343.12 377.76,343.08 378.04,343.04 378.31,343 378.59,342.97 378.87,342.93 379.15,342.9 379.43,342.86 379.7,342.83 379.98,342.8 380.26,342.76 380.54,342.73 380.82,342.7 381.09,342.67 381.37,342.64 381.65,342.61 381.93,342.59 382.21,342.57 382.48,342.55 382.76,342.53 383.04,342.52 383.32,342.51 383.6,342.51 383.87,342.51 384.15,342.51 384.43,342.52 384.71,342.53 384.99,342.54 385.26,342.56 385.54,342.58 385.82,342.6 386.1,342.63 386.37,342.66 386.65,342.69 386.93,342.72 387.21,342.76 387.49,342.8 387.76,342.85 388.04,342.9 388.32,342.95 388.6,343 388.88,343.06 389.15,343.12 389.43,343.18 389.71,343.24 389.99,343.31 390.27,343.38 390.54,343.45 390.82,343.53 391.1,343.61 391.38,343.69 391.66,343.77 391.93,343.86 392.21,343.95 392.49,344.04 392.77,344.13 393.04,344.22 393.32,344.32 393.6,344.42 393.88,344.52 394.16,344.63 394.43,344.74 394.71,344.85 394.99,344.96 395.27,345.08 395.55,345.2 395.82,345.32 396.1,345.44 396.38,345.57 396.66,345.7 396.94,345.84 397.21,345.97 397.49,346.11 397.77,346.26 398.05,346.4 398.32,346.55 398.6,346.71 398.88,346.86 399.16,347.03 399.44,347.19 399.71,347.36 399.99,347.53 400.27,347.7 400.55,347.88 400.83,348.06 401.1,348.25 401.38,348.44 401.66,348.64 401.94,348.83 402.22,349.04 402.49,349.24 402.77,349.45 403.05,349.67 403.33,349.89 403.61,350.11 403.88,350.34 404.16,350.57 404.44,350.8 404.72,351.04 405,351.27 405.27,351.51 405.55,351.75 405.83,352 406.11,352.24 406.38,352.49 406.66,352.74 406.94,352.99 407.22,353.24 407.5,353.49 407.77,353.75 408.05,354 408.33,354.26 408.61,354.52 408.89,354.77 409.16,355.03 409.44,355.29 409.72,355.55 410,355.81 410.28,356.07 410.55,356.33 410.83,356.59 411.11,356.85 411.39,357.11 411.67,357.38 411.94,357.64 412.22,357.91 412.5,358.18 412.78,358.46 413.05,358.73 413.33,359.01 413.61,359.29 413.89,359.57 414.17,359.86 414.44,360.15 414.72,360.44 415,360.74 415.28,361.04 415.56,361.35 415.83,361.66 416.11,361.97 416.39,362.3 416.67,362.63 416.95,362.98 417.22,363.34 417.5,363.71 417.78,364.09 418.06,364.48 418.33,364.88 418.61,365.28 418.89,365.7 419.17,366.13 419.45,366.56 419.72,367 420,367.45 420.28,367.91 420.56,368.37 420.84,368.84 421.11,369.32 421.39,369.81 421.67,370.3 421.95,370.79 422.23,371.3 422.5,371.8 422.78,372.32 423.06,372.83 423.34,373.36 423.62,373.88 423.89,374.41 424.17,374.95 424.45,375.49 424.73,376.03 425,376.57 425.28,377.12 425.56,377.66 425.84,378.21 426.12,378.77 426.39,379.32 426.67,379.88 426.95,380.43 427.23,380.99 427.51,381.55 427.78,382.12 428.06,382.69 428.34,383.28 428.62,383.87 428.9,384.47 429.17,385.08 429.45,385.7 429.73,386.32 430.01,386.96 430.29,387.61 430.56,388.27 430.84,388.93 431.12,389.61 431.4,390.3 431.79,389.01 432.18,387.72 432.57,386.44 432.96,385.15 433.35,383.88 433.74,382.6 434.14,381.33 434.53,380.06 434.92,378.8 435.31,377.54 435.7,376.28 436.09,375.02 436.48,373.76 436.88,372.51 437.27,371.26 437.66,370.02 438.05,368.77 438.44,367.53 438.83,366.28 439.22,365.05 439.61,363.81 440.01,362.57 440.4,361.34 440.79,360.1 441.18,358.87 441.57,357.64 441.96,356.41 442.35,355.18 442.75,353.95 443.14,352.72 443.53,351.49 443.92,350.26 444.31,349.04 444.7,347.81 445.09,346.58 445.48,345.36 445.88,344.13 446.27,342.91 446.66,341.68 447.05,340.45 447.44,339.22 447.83,337.99 448.22,336.77 448.61,335.54 449.01,334.31 449.4,333.09 449.79,331.87 450.18,330.65 450.57,329.44 450.96,328.23 451.35,327.03 451.75,325.83 452.14,324.64 452.53,323.45 452.92,322.27 453.31,321.1 453.7,319.93 454.09,318.77 454.48,317.62 454.88,316.47 455.27,315.34 455.66,314.21 456.05,313.09 456.44,311.99 456.83,310.89 457.22,309.8 457.62,308.72 458.01,307.66 458.4,306.6 458.79,305.56 459.18,304.52 459.57,303.5 459.96,302.52 460.35,301.58 460.75,300.67 461.14,299.81 461.53,298.98 461.92,298.19 462.31,297.43 462.7,296.7 463.09,296 463.48,295.33 463.88,294.69 464.27,294.08 464.66,293.49 465.05,292.92 465.44,292.38 465.83,291.85 466.22,291.35 466.62,290.86 467.01,290.39 467.4,289.93 467.79,289.48 468.18,289.04 468.57,288.61 468.96,288.2 469.35,287.78 469.75,287.37 470.14,286.97 470.53,286.57 470.92,286.16 471.31,285.76 471.7,285.37 472.09,284.97 472.49,284.58 472.88,284.19 473.27,283.81 473.66,283.43 474.05,283.06 474.44,282.69 474.83,282.33 475.22,281.99 475.62,281.64 476.01,281.31 476.4,280.99 476.79,280.68 477.18,280.38 477.57,280.1 477.96,279.82 478.35,279.56 478.75,279.32 479.14,279.08 479.53,278.87 479.92,278.67 480.31,278.48 480.7,278.32 481.09,278.17 481.49,278.04 481.88,277.93 482.27,277.83 482.66,277.74 483.05,277.65 483.44,277.58 483.83,277.52 484.22,277.47 484.62,277.43 485.01,277.4 485.4,277.38 485.79,277.37 486.18,277.37 486.57,277.38 486.96,277.4 487.36,277.42 487.75,277.46 488.14,277.51 488.53,277.55 488.92,277.6 489.31,277.64 489.7,277.69 490.09,277.74 490.49,277.79 490.88,277.84 491.27,277.89 491.66,277.94 492.05,278 492.44,278.05 492.83,278.11 493.22,278.17 493.62,278.23 494.01,278.3 494.4,278.37 494.79,278.44 495.18,278.51 495.57,278.59 495.96,278.67 496.36,278.75 496.75,278.84 497.14,278.93 497.53,279.03 497.92,279.13 498.31,279.23 498.7,279.34 499.09,279.45 499.49,279.57 499.88,279.69 500.27,279.82 500.66,279.95 501.05,280.08 501.44,280.23 501.83,280.38 502.22,280.53 502.62,280.69 503.01,280.85 503.4,281.03 503.79,281.21 504.18,281.39 504.57,281.58 504.96,281.78 505.36,281.98 505.75,282.18 506.14,282.39 506.53,282.61 506.92,282.83 507.31,283.06 507.7,283.29 508.09,283.53 508.49,283.77 508.88,284.02 509.27,284.28 509.66,284.54 510.05,284.8 510.44,285.07 510.83,285.35 511.23,285.63 511.62,285.91 512.01,286.2 512.4,286.5 512.79,286.8 513.18,287.11 513.57,287.42 513.96,287.74 514.36,288.06 514.75,288.39 515.14,288.72 515.53,289.05 515.92,289.39 516.31,289.73 516.7,290.06 517.09,290.4 517.49,290.74 517.88,291.08 518.27,291.42 518.66,291.77 519.05,292.12 519.44,292.46 519.83,292.81 520.23,293.17 520.62,293.52 521.01,293.88 521.4,294.24 521.79,294.61 522.18,294.97 522.57,295.34 522.96,295.72 523.36,296.09 523.75,296.48 524.14,296.86 524.53,297.25 524.92,297.64 525.31,298.04 525.7,298.44 526.1,298.85 526.49,299.26 526.88,299.68 527.27,300.09 527.66,300.51 528.05,300.94 528.44,301.36 528.83,301.78 529.23,302.21 529.62,302.64 530.01,303.07 530.4,303.5 530.79,303.93 531.18,304.36 531.57,304.79 531.96,305.23 532.36,305.66 532.75,306.09 533.14,306.52 533.53,306.94 533.92,307.37 534.31,307.8 534.7,308.22 535.1,308.64 535.49,309.06 535.88,309.48 536.27,309.89 536.66,310.31 537.05,310.71 537.44,311.12 537.83,311.52 538.23,311.93 538.62,312.33 539.01,312.73 539.4,313.14 539.79,313.54 540.18,313.94 540.57,314.34 540.97,314.74 541.36,315.14 541.75,315.54 542.14,315.94 542.53,316.34 542.92,316.74 543.31,317.14 543.7,317.53 544.1,317.93 544.49,318.32 544.88,318.72 545.27,319.11 545.66,319.5 546.05,319.89 546.44,320.28 546.83,320.67 547.23,321.05 547.62,321.44 548.01,321.82 548.4,322.21" fill="none" stroke="#f03c3c" stroke-width="1.1" stroke-linejoin="round" />
<g>
<path d="M416.9 82.4H465.1V90.4L486.4 106.4L465.1 102.9V131.7H416.9Z" fill="none" stroke="#9363bd" stroke-width="1.3" stroke-linejoin="miter"/>
<path d="M417.3 130.6L460.2 82.8" stroke="#8f8f8f" stroke-width="1"/>
<path d="M418.7 131.3L462.2 82.9" stroke="#bff4f6" stroke-width="2.2"/>
<path d="M420.2 131.8L464.3 83" stroke="#f2a0a0" stroke-width="0.9"/>
</g>
<path d="M105.97 174.1v-2.2M105.97 28.55v2.2M161.62 174.1v-2.2M161.62 28.55v2.2M217.28 174.1v-2.2M217.28 28.55v2.2M61.45 174.1h2.2M261.8 174.1h-2.2M61.45 137.71h2.2M261.8 137.71h-2.2M61.45 101.33h2.2M261.8 101.33h-2.2M61.45 64.94h2.2M261.8 64.94h-2.2M61.45 28.55h2.2M261.8 28.55h-2.2" stroke="#7f7f7f" stroke-width="0.9" fill="none"/>
<rect x="61.45" y="28.55" width="200.35" height="145.55" fill="none" stroke="#7f7f7f" stroke-width="1.1"/>
<path d="M390.16 174.9v-2.2M390.16 29.7v2.2M445.85 174.9v-2.2M445.85 29.7v2.2M501.54 174.9v-2.2M501.54 29.7v2.2M345.6 174.9h2.2M546.1 174.9h-2.2M345.6 138.6h2.2M546.1 138.6h-2.2M345.6 102.3h2.2M546.1 102.3h-2.2M345.6 66h2.2M546.1 66h-2.2M345.6 29.7h2.2M546.1 29.7h-2.2" stroke="#7f7f7f" stroke-width="0.9" fill="none"/>
<rect x="345.6" y="29.7" width="200.5" height="145.2" fill="none" stroke="#7f7f7f" stroke-width="1.1"/>
<path d="M106.3 391v-2.2M106.3 245.5v2.2M162.05 391v-2.2M162.05 245.5v2.2M217.8 391v-2.2M217.8 245.5v2.2M61.7 391h2.2M262.4 391h-2.2M61.7 352.2h2.2M262.4 352.2h-2.2M61.7 313.4h2.2M262.4 313.4h-2.2M61.7 274.6h2.2M262.4 274.6h-2.2" stroke="#7f7f7f" stroke-width="0.9" fill="none"/>
<rect x="61.7" y="245.5" width="200.7" height="145.5" fill="none" stroke="#7f7f7f" stroke-width="1.1"/>
<path d="M392.77 390.3v-2.2M392.77 244.8v2.2M448.35 390.3v-2.2M448.35 244.8v2.2M503.93 390.3v-2.2M503.93 244.8v2.2M348.3 390.3h2.2M548.4 390.3h-2.2M348.3 351.5h2.2M548.4 351.5h-2.2M348.3 312.7h2.2M548.4 312.7h-2.2M348.3 273.9h2.2M548.4 273.9h-2.2" stroke="#7f7f7f" stroke-width="0.9" fill="none"/>
<rect x="348.3" y="244.8" width="200.1" height="145.5" fill="none" stroke="#7f7f7f" stroke-width="1.1"/>
<rect x="97.67" y="297.65" width="5" height="5" fill="#262626"/>
<rect x="102.69" y="305.18" width="5" height="5" fill="#33e0ee"/>
<rect x="107.15" y="311.56" width="5" height="5" fill="#f03c3c"/>
<rect x="221.43" y="299.4" width="5" height="5" fill="#262626"/>
<rect x="216.42" y="306.92" width="5" height="5" fill="#33e0ee"/>
<rect x="211.95" y="313.31" width="5" height="5" fill="#f03c3c"/>
<rect x="370.26" y="326.71" width="5" height="5" fill="#262626"/>
<rect x="375.26" y="334" width="5" height="5" fill="#33e0ee"/>
<rect x="379.15" y="340.11" width="5" height="5" fill="#f03c3c"/>
<rect x="495.88" y="261.76" width="5" height="5" fill="#262626"/>
<rect x="490.87" y="268.94" width="5" height="5" fill="#33e0ee"/>
<rect x="485.31" y="274.97" width="5" height="5" fill="#f03c3c"/>
<rect x="73.3" y="274.5" width="33.1" height="20.6" fill="#ffffee" stroke="#a8a8a8" stroke-width="0.9"/>
<text x="74.8" y="284.4" font-family='"Liberation Sans", sans-serif' font-size="6.8" font-weight="bold" fill="#1a1a1a" stroke="#1a1a1a" stroke-width="0.25">X: -1.11</text>
<text x="74.8" y="292.5" font-family='"Liberation Sans", sans-serif' font-size="6.8" font-weight="bold" fill="#1a1a1a" stroke="#1a1a1a" stroke-width="0.25">Y: 0.4683</text>
<rect x="124.7" y="283.1" width="32.4" height="20" fill="#ffffee" stroke="#a8a8a8" stroke-width="0.9"/>
<text x="126.2" y="292" font-family='"Liberation Sans", sans-serif' font-size="6.8" font-weight="bold" fill="#2cc4d4" stroke="#2cc4d4" stroke-width="0.25">X: -1.02</text>
<text x="126.2" y="300" font-family='"Liberation Sans", sans-serif' font-size="6.8" font-weight="bold" fill="#2cc4d4" stroke="#2cc4d4" stroke-width="0.25">Y: 0.4295</text>
<rect x="95.6" y="322.4" width="32.8" height="20" fill="#ffffee" stroke="#a8a8a8" stroke-width="0.9"/>
<text x="97.1" y="331.6" font-family='"Liberation Sans", sans-serif' font-size="6.8" font-weight="bold" fill="#ee2a2a" stroke="#ee2a2a" stroke-width="0.25">X: -0.94</text>
<text x="97.1" y="339.7" font-family='"Liberation Sans", sans-serif' font-size="6.8" font-weight="bold" fill="#ee2a2a" stroke="#ee2a2a" stroke-width="0.25">Y: 0.3966</text>
<rect x="217.3" y="274.5" width="32.3" height="19.9" fill="#ffffee" stroke="#a8a8a8" stroke-width="0.9"/>
<text x="218.8" y="283.7" font-family='"Liberation Sans", sans-serif' font-size="6.8" font-weight="bold" fill="#1a1a1a" stroke="#1a1a1a" stroke-width="0.25">X: 1.11</text>
<text x="218.8" y="291.8" font-family='"Liberation Sans", sans-serif' font-size="6.8" font-weight="bold" fill="#1a1a1a" stroke="#1a1a1a" stroke-width="0.25">Y: 0.4593</text>
<rect x="173.9" y="282.7" width="32.6" height="20.3" fill="#ffffee" stroke="#a8a8a8" stroke-width="0.9"/>
<text x="175.4" y="291.9" font-family='"Liberation Sans", sans-serif' font-size="6.8" font-weight="bold" fill="#2cc4d4" stroke="#2cc4d4" stroke-width="0.25">X: 1.02</text>
<text x="175.4" y="300" font-family='"Liberation Sans", sans-serif' font-size="6.8" font-weight="bold" fill="#2cc4d4" stroke="#2cc4d4" stroke-width="0.25">Y: 0.4205</text>
<rect x="200.4" y="326.2" width="31.9" height="20.7" fill="#ffffee" stroke="#a8a8a8" stroke-width="0.9"/>
<text x="201.9" y="335.7" font-family='"Liberation Sans", sans-serif' font-size="6.8" font-weight="bold" fill="#ee2a2a" stroke="#ee2a2a" stroke-width="0.25">X: 0.94</text>
<text x="201.9" y="343.9" font-family='"Liberation Sans", sans-serif' font-size="6.8" font-weight="bold" fill="#ee2a2a" stroke="#ee2a2a" stroke-width="0.25">Y: 0.3876</text>
<rect x="350.9" y="299.5" width="33.2" height="20.5" fill="#ffffee" stroke="#a8a8a8" stroke-width="0.9"/>
<text x="352.4" y="308.7" font-family='"Liberation Sans", sans-serif' font-size="6.8" font-weight="bold" fill="#1a1a1a" stroke="#1a1a1a" stroke-width="0.25">X: -1.36</text>
<text x="352.4" y="316.8" font-family='"Liberation Sans", sans-serif' font-size="6.8" font-weight="bold" fill="#1a1a1a" stroke="#1a1a1a" stroke-width="0.25">Y: 0.3149</text>
<rect x="403.1" y="315.5" width="32.6" height="20.1" fill="#ffffee" stroke="#a8a8a8" stroke-width="0.9"/>
<text x="404.6" y="324.7" font-family='"Liberation Sans", sans-serif' font-size="6.8" font-weight="bold" fill="#2cc4d4" stroke="#2cc4d4" stroke-width="0.25">X: -1.27</text>
<text x="404.6" y="332.8" font-family='"Liberation Sans", sans-serif' font-size="6.8" font-weight="bold" fill="#2cc4d4" stroke="#2cc4d4" stroke-width="0.25">Y: 0.2773</text>
<rect x="367.6" y="351.3" width="32.8" height="20.1" fill="#ffffee" stroke="#a8a8a8" stroke-width="0.9"/>
<text x="369.1" y="360.5" font-family='"Liberation Sans", sans-serif' font-size="6.8" font-weight="bold" fill="#ee2a2a" stroke="#ee2a2a" stroke-width="0.25">X: -1.2</text>
<text x="369.1" y="368.6" font-family='"Liberation Sans", sans-serif' font-size="6.8" font-weight="bold" fill="#ee2a2a" stroke="#ee2a2a" stroke-width="0.25">Y: 0.2458</text>
<rect x="511.6" y="246.9" width="32.8" height="19.3" fill="#ffffee" stroke="#a8a8a8" stroke-width="0.9"/>
<text x="513.1" y="255.7" font-family='"Liberation Sans", sans-serif' font-size="6.8" font-weight="bold" fill="#1a1a1a" stroke="#1a1a1a" stroke-width="0.25">X: 0.90</text>
<text x="513.1" y="263.8" font-family='"Liberation Sans", sans-serif' font-size="6.8" font-weight="bold" fill="#1a1a1a" stroke="#1a1a1a" stroke-width="0.25">Y: 0.6497</text>
<rect x="442.4" y="250" width="32.3" height="20" fill="#ffffee" stroke="#a8a8a8" stroke-width="0.9"/>
<text x="443.9" y="258.9" font-family='"Liberation Sans", sans-serif' font-size="6.8" font-weight="bold" fill="#2cc4d4" stroke="#2cc4d4" stroke-width="0.25">X: 0.81</text>
<text x="443.9" y="266.9" font-family='"Liberation Sans", sans-serif' font-size="6.8" font-weight="bold" fill="#2cc4d4" stroke="#2cc4d4" stroke-width="0.25">Y: 0.6127</text>
<rect x="475.8" y="288.5" width="32.2" height="19.9" fill="#ffffee" stroke="#a8a8a8" stroke-width="0.9"/>
<text x="477.3" y="297.7" font-family='"Liberation Sans", sans-serif' font-size="6.8" font-weight="bold" fill="#ee2a2a" stroke="#ee2a2a" stroke-width="0.25">X: 0.74</text>
<text x="477.3" y="305.8" font-family='"Liberation Sans", sans-serif' font-size="6.8" font-weight="bold" fill="#ee2a2a" stroke="#ee2a2a" stroke-width="0.25">Y: 0.5816</text>
<rect x="211" y="135.8" width="50.8" height="38.3" fill="#fff" stroke="#7f7f7f" stroke-width="1"/>
<path d="M213.2 142.8H232.6" stroke="#262626" stroke-width="1.3"/>
<text x="236.8" y="146.4" font-family='"Liberation Sans", sans-serif' font-size="9.2" fill="#222" stroke="#222" stroke-width="0.25"><tspan font-style="italic">M</tspan>=10</text>
<path d="M213.2 154.8H232.6" stroke="#33e0ee" stroke-width="1.3"/>
<text x="236.8" y="158.4" font-family='"Liberation Sans", sans-serif' font-size="9.2" fill="#222" stroke="#222" stroke-width="0.25"><tspan font-style="italic">M</tspan>=11</text>
<path d="M213.2 166.8H232.6" stroke="#f03c3c" stroke-width="1.3"/>
<text x="236.8" y="170.4" font-family='"Liberation Sans", sans-serif' font-size="9.2" fill="#222" stroke="#222" stroke-width="0.25"><tspan font-style="italic">M</tspan>=12</text>
<text x="57.95" y="179.6" text-anchor="end" font-family='"Liberation Sans", sans-serif' font-size="13" fill="#222" stroke="#222" stroke-width="0.22">0</text>
<text x="57.95" y="143.21" text-anchor="end" font-family='"Liberation Sans", sans-serif' font-size="13" fill="#222" stroke="#222" stroke-width="0.22">0.5</text>
<text x="57.95" y="106.83" text-anchor="end" font-family='"Liberation Sans", sans-serif' font-size="13" fill="#222" stroke="#222" stroke-width="0.22">1</text>
<text x="57.95" y="70.44" text-anchor="end" font-family='"Liberation Sans", sans-serif' font-size="13" fill="#222" stroke="#222" stroke-width="0.22">1.5</text>
<text x="57.95" y="34.05" text-anchor="end" font-family='"Liberation Sans", sans-serif' font-size="13" fill="#222" stroke="#222" stroke-width="0.22">2</text>
<text x="104.97" y="192.3" text-anchor="middle" font-family='"Liberation Sans", sans-serif' font-size="13" fill="#222" stroke="#222" stroke-width="0.22">-1</text>
<text x="161.62" y="192.3" text-anchor="middle" font-family='"Liberation Sans", sans-serif' font-size="13" fill="#222" stroke="#222" stroke-width="0.22">0</text>
<text x="217.28" y="192.3" text-anchor="middle" font-family='"Liberation Sans", sans-serif' font-size="13" fill="#222" stroke="#222" stroke-width="0.22">1</text>
<text transform="translate(27.55,122.83) rotate(-90)" font-family='"Liberation Sans", sans-serif' font-size="14.5" fill="#222" stroke="#222" stroke-width="0.22"><tspan font-style="italic">E</tspan><tspan font-style="italic" font-size="11" dy="7.5">g</tspan><tspan dy="-7.5"> (eV)</tspan></text>
<rect x="495.3" y="136.6" width="50.8" height="38.3" fill="#fff" stroke="#7f7f7f" stroke-width="1"/>
<path d="M497.5 143.6H516.9" stroke="#262626" stroke-width="1.3"/>
<text x="521.1" y="147.2" font-family='"Liberation Sans", sans-serif' font-size="9.2" fill="#222" stroke="#222" stroke-width="0.25"><tspan font-style="italic">M</tspan>=10</text>
<path d="M497.5 155.6H516.9" stroke="#33e0ee" stroke-width="1.3"/>
<text x="521.1" y="159.2" font-family='"Liberation Sans", sans-serif' font-size="9.2" fill="#222" stroke="#222" stroke-width="0.25"><tspan font-style="italic">M</tspan>=11</text>
<path d="M497.5 167.6H516.9" stroke="#f03c3c" stroke-width="1.3"/>
<text x="521.1" y="171.2" font-family='"Liberation Sans", sans-serif' font-size="9.2" fill="#222" stroke="#222" stroke-width="0.25"><tspan font-style="italic">M</tspan>=12</text>
<text x="342.1" y="180.4" text-anchor="end" font-family='"Liberation Sans", sans-serif' font-size="13" fill="#222" stroke="#222" stroke-width="0.22">0</text>
<text x="342.1" y="144.1" text-anchor="end" font-family='"Liberation Sans", sans-serif' font-size="13" fill="#222" stroke="#222" stroke-width="0.22">0.5</text>
<text x="342.1" y="107.8" text-anchor="end" font-family='"Liberation Sans", sans-serif' font-size="13" fill="#222" stroke="#222" stroke-width="0.22">1</text>
<text x="342.1" y="71.5" text-anchor="end" font-family='"Liberation Sans", sans-serif' font-size="13" fill="#222" stroke="#222" stroke-width="0.22">1.5</text>
<text x="342.1" y="35.2" text-anchor="end" font-family='"Liberation Sans", sans-serif' font-size="13" fill="#222" stroke="#222" stroke-width="0.22">2</text>
<text x="389.16" y="193.1" text-anchor="middle" font-family='"Liberation Sans", sans-serif' font-size="13" fill="#222" stroke="#222" stroke-width="0.22">-1</text>
<text x="445.85" y="193.1" text-anchor="middle" font-family='"Liberation Sans", sans-serif' font-size="13" fill="#222" stroke="#222" stroke-width="0.22">0</text>
<text x="501.54" y="193.1" text-anchor="middle" font-family='"Liberation Sans", sans-serif' font-size="13" fill="#222" stroke="#222" stroke-width="0.22">1</text>
<text transform="translate(311.7,123.8) rotate(-90)" font-family='"Liberation Sans", sans-serif' font-size="14.5" fill="#222" stroke="#222" stroke-width="0.22"><tspan font-style="italic">E</tspan><tspan font-style="italic" font-size="11" dy="7.5">g</tspan><tspan dy="-7.5"> (eV)</tspan></text>
<rect x="211.6" y="352.7" width="50.8" height="38.3" fill="#fff" stroke="#7f7f7f" stroke-width="1"/>
<path d="M213.8 359.7H233.2" stroke="#262626" stroke-width="1.3"/>
<text x="237.4" y="363.3" font-family='"Liberation Sans", sans-serif' font-size="9.2" fill="#222" stroke="#222" stroke-width="0.25"><tspan font-style="italic">M</tspan>=10</text>
<path d="M213.8 371.7H233.2" stroke="#33e0ee" stroke-width="1.3"/>
<text x="237.4" y="375.3" font-family='"Liberation Sans", sans-serif' font-size="9.2" fill="#222" stroke="#222" stroke-width="0.25"><tspan font-style="italic">M</tspan>=11</text>
<path d="M213.8 383.7H233.2" stroke="#f03c3c" stroke-width="1.3"/>
<text x="237.4" y="387.3" font-family='"Liberation Sans", sans-serif' font-size="9.2" fill="#222" stroke="#222" stroke-width="0.25"><tspan font-style="italic">M</tspan>=12</text>
<text x="58.2" y="396.5" text-anchor="end" font-family='"Liberation Sans", sans-serif' font-size="13" fill="#222" stroke="#222" stroke-width="0.22">0</text>
<text x="58.2" y="357.7" text-anchor="end" font-family='"Liberation Sans", sans-serif' font-size="13" fill="#222" stroke="#222" stroke-width="0.22">0.2</text>
<text x="58.2" y="318.9" text-anchor="end" font-family='"Liberation Sans", sans-serif' font-size="13" fill="#222" stroke="#222" stroke-width="0.22">0.4</text>
<text x="58.2" y="280.1" text-anchor="end" font-family='"Liberation Sans", sans-serif' font-size="13" fill="#222" stroke="#222" stroke-width="0.22">0.6</text>
<text x="105.3" y="409.2" text-anchor="middle" font-family='"Liberation Sans", sans-serif' font-size="13" fill="#222" stroke="#222" stroke-width="0.22">-1</text>
<text x="162.05" y="409.2" text-anchor="middle" font-family='"Liberation Sans", sans-serif' font-size="13" fill="#222" stroke="#222" stroke-width="0.22">0</text>
<text x="217.8" y="409.2" text-anchor="middle" font-family='"Liberation Sans", sans-serif' font-size="13" fill="#222" stroke="#222" stroke-width="0.22">1</text>
<text transform="translate(27.8,339.75) rotate(-90)" font-family='"Liberation Sans", sans-serif' font-size="14.5" fill="#222" stroke="#222" stroke-width="0.22"><tspan font-style="italic">E</tspan><tspan font-style="italic" font-size="11" dy="7.5">g</tspan><tspan dy="-7.5"> (eV)</tspan></text>
<rect x="497.6" y="352" width="50.8" height="38.3" fill="#fff" stroke="#7f7f7f" stroke-width="1"/>
<path d="M499.8 359H519.2" stroke="#262626" stroke-width="1.3"/>
<text x="523.4" y="362.6" font-family='"Liberation Sans", sans-serif' font-size="9.2" fill="#222" stroke="#222" stroke-width="0.25"><tspan font-style="italic">M</tspan>=10</text>
<path d="M499.8 371H519.2" stroke="#33e0ee" stroke-width="1.3"/>
<text x="523.4" y="374.6" font-family='"Liberation Sans", sans-serif' font-size="9.2" fill="#222" stroke="#222" stroke-width="0.25"><tspan font-style="italic">M</tspan>=11</text>
<path d="M499.8 383H519.2" stroke="#f03c3c" stroke-width="1.3"/>
<text x="523.4" y="386.6" font-family='"Liberation Sans", sans-serif' font-size="9.2" fill="#222" stroke="#222" stroke-width="0.25"><tspan font-style="italic">M</tspan>=12</text>
<text x="344.8" y="395.8" text-anchor="end" font-family='"Liberation Sans", sans-serif' font-size="13" fill="#222" stroke="#222" stroke-width="0.22">0</text>
<text x="344.8" y="357" text-anchor="end" font-family='"Liberation Sans", sans-serif' font-size="13" fill="#222" stroke="#222" stroke-width="0.22">0.2</text>
<text x="344.8" y="318.2" text-anchor="end" font-family='"Liberation Sans", sans-serif' font-size="13" fill="#222" stroke="#222" stroke-width="0.22">0.4</text>
<text x="344.8" y="279.4" text-anchor="end" font-family='"Liberation Sans", sans-serif' font-size="13" fill="#222" stroke="#222" stroke-width="0.22">0.6</text>
<text x="391.77" y="408.5" text-anchor="middle" font-family='"Liberation Sans", sans-serif' font-size="13" fill="#222" stroke="#222" stroke-width="0.22">-1</text>
<text x="448.35" y="408.5" text-anchor="middle" font-family='"Liberation Sans", sans-serif' font-size="13" fill="#222" stroke="#222" stroke-width="0.22">0</text>
<text x="503.93" y="408.5" text-anchor="middle" font-family='"Liberation Sans", sans-serif' font-size="13" fill="#222" stroke="#222" stroke-width="0.22">1</text>
<text transform="translate(314.4,339.05) rotate(-90)" font-family='"Liberation Sans", sans-serif' font-size="14.5" fill="#222" stroke="#222" stroke-width="0.22"><tspan font-style="italic">E</tspan><tspan font-style="italic" font-size="11" dy="7.5">g</tspan><tspan dy="-7.5"> (eV)</tspan></text>
<text x="146.1" y="209.8" font-family='"Liberation Sans", sans-serif' font-size="14.5" fill="#222" stroke="#222" stroke-width="0.22" font-style="italic">V</text>
<text x="155.15" y="216.6" font-family='"Liberation Sans", sans-serif' font-size="11" fill="#222" stroke="#222" stroke-width="0.2" font-style="italic">t</text>
<text x="162.3" y="209.8" font-family='"Liberation Sans", sans-serif' font-size="14.5" fill="#222" stroke="#222" stroke-width="0.22">(V)</text>
<text x="430.25" y="210.6" font-family='"Liberation Sans", sans-serif' font-size="14.5" fill="#222" stroke="#222" stroke-width="0.22" font-style="italic">V</text>
<text x="439.3" y="217.4" font-family='"Liberation Sans", sans-serif' font-size="11" fill="#222" stroke="#222" stroke-width="0.2" font-style="italic">t</text>
<text x="446.45" y="210.6" font-family='"Liberation Sans", sans-serif' font-size="14.5" fill="#222" stroke="#222" stroke-width="0.22">(V)</text>
<text x="145.25" y="426.7" font-family='"Liberation Sans", sans-serif' font-size="14.5" fill="#222" stroke="#222" stroke-width="0.22" font-style="italic">V</text>
<text x="154.9" y="433.5" font-family='"Liberation Sans", sans-serif' font-size="11" fill="#222" stroke="#222" stroke-width="0.2" font-style="italic">s</text>
<text x="164.2" y="426.7" font-family='"Liberation Sans", sans-serif' font-size="14.5" fill="#222" stroke="#222" stroke-width="0.22">(V)</text>
<text x="431.85" y="426" font-family='"Liberation Sans", sans-serif' font-size="14.5" fill="#222" stroke="#222" stroke-width="0.22" font-style="italic">V</text>
<text x="441.5" y="432.8" font-family='"Liberation Sans", sans-serif' font-size="11" fill="#222" stroke="#222" stroke-width="0.2" font-style="italic">s</text>
<text x="450.8" y="426" font-family='"Liberation Sans", sans-serif' font-size="14.5" fill="#222" stroke="#222" stroke-width="0.22">(V)</text>
<text x="114.79" y="20.2" font-family='"Liberation Serif", serif' font-size="23.3" fill="#000" stroke="#000" stroke-width="0.12" font-style="italic">V</text>
<text x="126.91" y="25.5" font-family='"Liberation Serif", serif' font-size="15.5" fill="#000" stroke="#000" stroke-width="0.1" font-style="italic">s</text>
<text x="138.12" y="20.2" font-family='"Liberation Serif", serif' font-size="23.3" fill="#000" stroke="#000" stroke-width="0.12">= 0 (V)</text>
<text x="389.79" y="20.4" font-family='"Liberation Serif", serif' font-size="23.3" fill="#000" stroke="#000" stroke-width="0.12" font-style="italic">V</text>
<text x="401.91" y="25.7" font-family='"Liberation Serif", serif' font-size="15.5" fill="#000" stroke="#000" stroke-width="0.1" font-style="italic">s</text>
<text x="413.12" y="20.4" font-family='"Liberation Serif", serif' font-size="23.3" fill="#000" stroke="#000" stroke-width="0.12">= 0.3 (V)</text>
<text x="116.09" y="238.5" font-family='"Liberation Serif", serif' font-size="23.3" fill="#000" stroke="#000" stroke-width="0.12" font-style="italic">V</text>
<text x="129.42" y="243.8" font-family='"Liberation Serif", serif' font-size="15.5" fill="#000" stroke="#000" stroke-width="0.1" font-style="italic">t</text>
<text x="138.12" y="238.5" font-family='"Liberation Serif", serif' font-size="23.3" fill="#000" stroke="#000" stroke-width="0.12">= 0 (V)</text>
<text x="393.59" y="238.3" font-family='"Liberation Serif", serif' font-size="23.3" fill="#000" stroke="#000" stroke-width="0.12" font-style="italic">V</text>
<text x="406.92" y="243.6" font-family='"Liberation Serif", serif' font-size="15.5" fill="#000" stroke="#000" stroke-width="0.1" font-style="italic">t</text>
<text x="415.62" y="238.3" font-family='"Liberation Serif", serif' font-size="23.3" fill="#000" stroke="#000" stroke-width="0.12">= 0.3 (V)</text>
<text x="0.8" y="13.5" font-family='"Liberation Serif", serif' font-size="18.5" font-weight="bold" fill="#000">(a)</text>
<text x="280.3" y="13.8" font-family='"Liberation Serif", serif' font-size="18.5" font-weight="bold" fill="#000">(b)</text>
<text x="2.4" y="231" font-family='"Liberation Serif", serif' font-size="18.5" font-weight="bold" fill="#000">(c)</text>
<text x="280.3" y="231.3" font-family='"Liberation Serif", serif' font-size="18.5" font-weight="bold" fill="#000">(d)</text>
</svg>
</body></html>
